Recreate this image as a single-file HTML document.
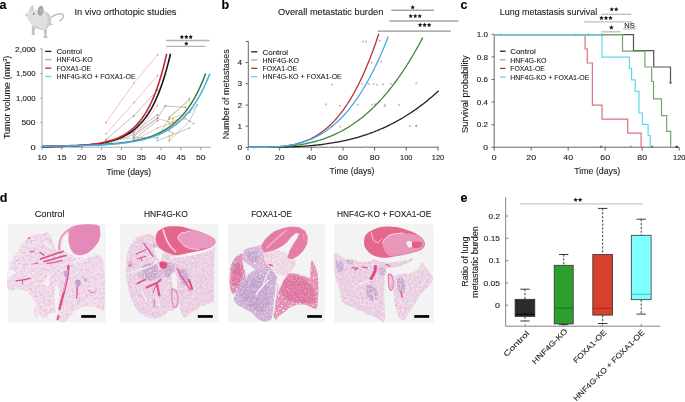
<!DOCTYPE html><html><head><meta charset="utf-8"><style>html,body{margin:0;padding:0;background:#fff;}svg{display:block;will-change:transform}text{font-family:"Liberation Sans",sans-serif;stroke:#1a1a1a;stroke-width:0.1px;paint-order:stroke}</style></head><body>
<svg width="685" height="402" viewBox="0 0 685 402">
<rect width="685" height="402" fill="#fff"/>
<text x="-0.60" y="9.00" font-size="12.5" font-weight="bold" fill="#000">a</text>
<text x="221.40" y="9.00" font-size="12.5" font-weight="bold" fill="#000">b</text>
<text x="460.60" y="9.00" font-size="12.5" font-weight="bold" fill="#000">c</text>
<text x="-0.20" y="201.80" font-size="12.5" font-weight="bold" fill="#000">d</text>
<text x="460.60" y="201.90" font-size="12.5" font-weight="bold" fill="#000">e</text>
<g>
<path d="M50.8,17.8 C53,16.2 54.5,15.2 56,14.7 C58.5,13.9 60.5,13.5 61.9,13.8 C63.6,14.2 63.8,16.2 62.8,18 C61.9,19.4 60.8,20.3 59.8,21" stroke="#b4b4b4" stroke-width="1.25" fill="none" stroke-linecap="round"/>
<path d="M43.80,29.00 C44.20,27.92 46.37,28.00 46.80,29.00 C47.23,30.00 46.22,33.57 46.40,35.00 C46.58,36.43 48.40,37.12 47.90,37.60 C47.40,38.08 43.98,38.25 43.40,37.90 C42.82,37.55 44.33,36.98 44.40,35.50 C44.47,34.02 43.40,30.08 43.80,29.00 Z" fill="#c0c0c0"/>
<path d="M31.80,26.50 C32.30,25.58 34.77,26.00 35.20,27.00 C35.63,28.00 34.40,31.25 34.40,32.50 C34.40,33.75 35.73,34.15 35.20,34.50 C34.67,34.85 31.70,34.93 31.20,34.60 C30.70,34.27 32.10,33.85 32.20,32.50 C32.30,31.15 31.30,27.42 31.80,26.50 Z" fill="#c0c0c0"/>
<path d="M50.2,22.8 L53.3,24.6 L50,25.6 Z" fill="#c4c4c4"/>
<path d="M26.20,14.70 C26.37,14.05 26.82,13.18 27.30,12.60 C27.78,12.02 28.40,11.60 29.10,11.20 C29.80,10.80 30.63,10.43 31.50,10.20 C32.37,9.97 33.22,9.73 34.30,9.80 C35.38,9.87 36.80,10.53 38.00,10.60 C39.20,10.67 40.40,10.13 41.50,10.20 C42.60,10.27 43.58,10.63 44.60,11.00 C45.62,11.37 46.73,11.80 47.60,12.40 C48.47,13.00 49.20,13.58 49.80,14.60 C50.40,15.62 51.00,17.13 51.20,18.50 C51.40,19.87 51.40,21.48 51.00,22.80 C50.60,24.12 49.60,25.37 48.80,26.40 C48.00,27.43 47.17,28.37 46.20,29.00 C45.23,29.63 44.07,30.10 43.00,30.20 C41.93,30.30 40.93,29.87 39.80,29.60 C38.67,29.33 37.32,29.13 36.20,28.60 C35.08,28.07 34.07,27.37 33.10,26.40 C32.13,25.43 31.28,24.00 30.40,22.80 C29.52,21.60 28.48,20.25 27.80,19.20 C27.12,18.15 26.57,17.25 26.30,16.50 C26.03,15.75 26.03,15.35 26.20,14.70 Z" fill="#e0e0e0"/>
<path d="M45.00,12.00 C45.33,11.80 47.53,12.80 48.50,13.80 C49.47,14.80 50.42,16.50 50.80,18.00 C51.18,19.50 51.17,21.40 50.80,22.80 C50.43,24.20 49.40,25.40 48.60,26.40 C47.80,27.40 46.22,29.20 46.00,28.80 C45.78,28.40 47.03,25.63 47.30,24.00 C47.57,22.37 47.73,20.50 47.60,19.00 C47.47,17.50 46.93,16.17 46.50,15.00 C46.07,13.83 44.67,12.20 45.00,12.00 Z" fill="#cdcdcd"/>
<path d="M33.00,26.20 C33.08,26.63 35.33,27.85 36.50,28.40 C37.67,28.95 38.88,29.23 40.00,29.50 C41.12,29.77 43.20,30.32 43.20,30.00 C43.20,29.68 41.20,28.30 40.00,27.60 C38.80,26.90 37.17,26.03 36.00,25.80 C34.83,25.57 32.92,25.77 33.00,26.20 Z" fill="#d2d2d2"/>
<path d="M29.0,11.4 C29.6,9 30.8,6.8 32.4,5.2 C33.2,6.8 33.7,8.2 33.9,9.8 C32.2,10 30.6,10.6 29.0,11.4 Z" fill="#d4d4d4" stroke="#bdbdbd" stroke-width="0.4"/>
<ellipse cx="40.6" cy="10.8" rx="3.0" ry="5.0" transform="rotate(8 40.6 10.8)" fill="#a3a3a3"/>
<ellipse cx="41.2" cy="11.4" rx="1.6" ry="3.4" transform="rotate(8 41.2 11.4)" fill="#b0b0b0"/>
<ellipse cx="33.8" cy="13.8" rx="0.85" ry="0.65" transform="rotate(25 33.8 13.8)" fill="#4a4a4a"/>
<circle cx="26.4" cy="14.9" r="0.75" fill="#a0a0a0"/>
<path d="M25.6,14.2 L23.2,12.8 M25.6,15.2 L23,15.3" stroke="#dcdcdc" stroke-width="0.35"/>
</g>
<text x="74.40" y="14.90" font-size="9.5" textLength="102.10" lengthAdjust="spacingAndGlyphs" fill="#1a1a1a">In vivo orthotopic studies</text>
<line x1="42.00" y1="48.30" x2="42.00" y2="147.40" stroke="#9a9a9a" stroke-width="0.9"/>
<line x1="40.20" y1="49.00" x2="42.00" y2="49.00" stroke="#9a9a9a" stroke-width="0.9"/>
<text x="35.60" y="51.60" font-size="7.4" text-anchor="end" textLength="20.50" lengthAdjust="spacingAndGlyphs" fill="#1a1a1a">2,000</text>
<line x1="40.20" y1="73.50" x2="42.00" y2="73.50" stroke="#9a9a9a" stroke-width="0.9"/>
<text x="35.60" y="76.10" font-size="7.4" text-anchor="end" textLength="19.50" lengthAdjust="spacingAndGlyphs" fill="#1a1a1a">1,500</text>
<line x1="40.20" y1="98.00" x2="42.00" y2="98.00" stroke="#9a9a9a" stroke-width="0.9"/>
<text x="35.60" y="100.60" font-size="7.4" text-anchor="end" textLength="19.50" lengthAdjust="spacingAndGlyphs" fill="#1a1a1a">1,000</text>
<line x1="40.20" y1="122.50" x2="42.00" y2="122.50" stroke="#9a9a9a" stroke-width="0.9"/>
<text x="35.60" y="125.10" font-size="7.4" text-anchor="end" textLength="14.20" lengthAdjust="spacingAndGlyphs" fill="#1a1a1a">500</text>
<line x1="40.20" y1="147.00" x2="42.00" y2="147.00" stroke="#9a9a9a" stroke-width="0.9"/>
<text x="35.60" y="149.60" font-size="7.4" text-anchor="end" textLength="5.20" lengthAdjust="spacingAndGlyphs" fill="#1a1a1a">0</text>
<line x1="42.00" y1="147.20" x2="211.00" y2="147.20" stroke="#9a9a9a" stroke-width="0.9"/>
<line x1="42.00" y1="147.20" x2="42.00" y2="150.00" stroke="#9a9a9a" stroke-width="1.0"/>
<text x="42.00" y="160.00" font-size="7.4" text-anchor="middle" textLength="9.60" lengthAdjust="spacingAndGlyphs" fill="#1a1a1a">10</text>
<line x1="61.85" y1="147.20" x2="61.85" y2="150.00" stroke="#9a9a9a" stroke-width="1.0"/>
<text x="61.85" y="160.00" font-size="7.4" text-anchor="middle" textLength="9.60" lengthAdjust="spacingAndGlyphs" fill="#1a1a1a">15</text>
<line x1="81.70" y1="147.20" x2="81.70" y2="150.00" stroke="#9a9a9a" stroke-width="1.0"/>
<text x="81.70" y="160.00" font-size="7.4" text-anchor="middle" textLength="9.60" lengthAdjust="spacingAndGlyphs" fill="#1a1a1a">20</text>
<line x1="101.55" y1="147.20" x2="101.55" y2="150.00" stroke="#9a9a9a" stroke-width="1.0"/>
<text x="101.55" y="160.00" font-size="7.4" text-anchor="middle" textLength="9.60" lengthAdjust="spacingAndGlyphs" fill="#1a1a1a">25</text>
<line x1="121.40" y1="147.20" x2="121.40" y2="150.00" stroke="#9a9a9a" stroke-width="1.0"/>
<text x="121.40" y="160.00" font-size="7.4" text-anchor="middle" textLength="9.60" lengthAdjust="spacingAndGlyphs" fill="#1a1a1a">30</text>
<line x1="141.25" y1="147.20" x2="141.25" y2="150.00" stroke="#9a9a9a" stroke-width="1.0"/>
<text x="141.25" y="160.00" font-size="7.4" text-anchor="middle" textLength="9.60" lengthAdjust="spacingAndGlyphs" fill="#1a1a1a">35</text>
<line x1="161.10" y1="147.20" x2="161.10" y2="150.00" stroke="#9a9a9a" stroke-width="1.0"/>
<text x="161.10" y="160.00" font-size="7.4" text-anchor="middle" textLength="9.60" lengthAdjust="spacingAndGlyphs" fill="#1a1a1a">40</text>
<line x1="180.95" y1="147.20" x2="180.95" y2="150.00" stroke="#9a9a9a" stroke-width="1.0"/>
<text x="180.95" y="160.00" font-size="7.4" text-anchor="middle" textLength="9.60" lengthAdjust="spacingAndGlyphs" fill="#1a1a1a">45</text>
<line x1="200.80" y1="147.20" x2="200.80" y2="150.00" stroke="#9a9a9a" stroke-width="1.0"/>
<text x="200.80" y="160.00" font-size="7.4" text-anchor="middle" textLength="9.60" lengthAdjust="spacingAndGlyphs" fill="#1a1a1a">50</text>
<text x="128.80" y="174.50" font-size="8.6" text-anchor="middle" textLength="44.80" lengthAdjust="spacingAndGlyphs" fill="#1a1a1a">Time (days)</text>
<text x="10.2" y="97.4" font-size="8.8" text-anchor="middle" transform="rotate(-90 10.2 97.4)" textLength="83.4" lengthAdjust="spacingAndGlyphs" fill="#1a1a1a">Tumor volume (mm<tspan font-size="5.4" dy="-3">3</tspan><tspan dy="3">)</tspan></text>
<line x1="45.10" y1="51.40" x2="51.40" y2="51.40" stroke="#222" stroke-width="1.3"/>
<text x="56.40" y="54.15" font-size="7.4" textLength="25.60" lengthAdjust="spacingAndGlyphs" fill="#1a1a1a">Control</text>
<line x1="45.10" y1="59.70" x2="51.40" y2="59.70" stroke="#8dbd8d" stroke-width="1.3"/>
<text x="56.40" y="62.45" font-size="7.4" textLength="36.40" lengthAdjust="spacingAndGlyphs" fill="#1a1a1a">HNF4G-KO</text>
<line x1="45.10" y1="68.20" x2="51.40" y2="68.20" stroke="#c0303a" stroke-width="1.3"/>
<text x="56.40" y="70.95" font-size="7.4" textLength="34.70" lengthAdjust="spacingAndGlyphs" fill="#1a1a1a">FOXA1-OE</text>
<line x1="45.10" y1="76.50" x2="51.40" y2="76.50" stroke="#6fcfea" stroke-width="1.3"/>
<text x="56.40" y="79.25" font-size="7.4" textLength="79.20" lengthAdjust="spacingAndGlyphs" fill="#1a1a1a">HNF4G-KO + FOXA1-OE</text>
<polyline points="105.90,122.60 134.00,83.10 157.50,54.80" stroke="#ee8c96" stroke-width="0.55" fill="none"/>
<circle cx="105.90" cy="122.60" r="0.85" fill="#ee8c96"/>
<circle cx="134.00" cy="83.10" r="0.85" fill="#ee8c96"/>
<circle cx="157.50" cy="54.80" r="0.85" fill="#ee8c96"/>
<polyline points="105.90,134.00 134.00,102.50 157.50,75.70" stroke="#ee8c96" stroke-width="0.55" fill="none"/>
<circle cx="105.90" cy="134.00" r="0.85" fill="#ee8c96"/>
<circle cx="134.00" cy="102.50" r="0.85" fill="#ee8c96"/>
<circle cx="157.50" cy="75.70" r="0.85" fill="#ee8c96"/>
<polyline points="105.90,140.50 133.60,137.90 157.50,105.60" stroke="#ee8c96" stroke-width="0.55" fill="none"/>
<circle cx="105.90" cy="140.50" r="0.85" fill="#ee8c96"/>
<circle cx="133.60" cy="137.90" r="0.85" fill="#ee8c96"/>
<circle cx="157.50" cy="105.60" r="0.85" fill="#ee8c96"/>
<polyline points="133.60,141.00 157.50,128.00 185.50,118.60 193.60,123.60" stroke="#ee8c96" stroke-width="0.55" fill="none"/>
<circle cx="133.60" cy="141.00" r="0.85" fill="#ee8c96"/>
<circle cx="157.50" cy="128.00" r="0.85" fill="#ee8c96"/>
<circle cx="185.50" cy="118.60" r="0.85" fill="#ee8c96"/>
<circle cx="193.60" cy="123.60" r="0.85" fill="#ee8c96"/>
<polyline points="133.60,136.50 157.50,118.50 169.30,122.00" stroke="#ee8c96" stroke-width="0.55" fill="none"/>
<circle cx="133.60" cy="136.50" r="0.85" fill="#ee8c96"/>
<circle cx="157.50" cy="118.50" r="0.85" fill="#ee8c96"/>
<circle cx="169.30" cy="122.00" r="0.85" fill="#ee8c96"/>
<polyline points="105.90,139.60 133.60,115.90 157.50,90.30" stroke="#8a8a8a" stroke-width="0.55" fill="none"/>
<circle cx="105.90" cy="139.60" r="0.85" fill="#8a8a8a"/>
<circle cx="133.60" cy="115.90" r="0.85" fill="#8a8a8a"/>
<circle cx="157.50" cy="90.30" r="0.85" fill="#8a8a8a"/>
<polyline points="105.90,143.30 133.60,132.30 157.50,114.90" stroke="#8a8a8a" stroke-width="0.55" fill="none"/>
<circle cx="105.90" cy="143.30" r="0.85" fill="#8a8a8a"/>
<circle cx="133.60" cy="132.30" r="0.85" fill="#8a8a8a"/>
<circle cx="157.50" cy="114.90" r="0.85" fill="#8a8a8a"/>
<polyline points="105.90,144.50 133.60,134.60 157.50,118.00 165.20,106.00 185.50,107.40" stroke="#8a8a8a" stroke-width="0.55" fill="none"/>
<circle cx="105.90" cy="144.50" r="0.85" fill="#8a8a8a"/>
<circle cx="133.60" cy="134.60" r="0.85" fill="#8a8a8a"/>
<circle cx="157.50" cy="118.00" r="0.85" fill="#8a8a8a"/>
<circle cx="165.20" cy="106.00" r="0.85" fill="#8a8a8a"/>
<circle cx="185.50" cy="107.40" r="0.85" fill="#8a8a8a"/>
<polyline points="133.60,140.00 157.50,120.50" stroke="#8a8a8a" stroke-width="0.55" fill="none"/>
<circle cx="133.60" cy="140.00" r="0.85" fill="#8a8a8a"/>
<circle cx="157.50" cy="120.50" r="0.85" fill="#8a8a8a"/>
<polyline points="133.60,137.30 157.50,137.90 169.30,118.00 189.50,98.50" stroke="#7fb07f" stroke-width="0.55" fill="none"/>
<circle cx="133.60" cy="137.30" r="0.85" fill="#7fb07f"/>
<circle cx="157.50" cy="137.90" r="0.85" fill="#7fb07f"/>
<circle cx="169.30" cy="118.00" r="0.85" fill="#7fb07f"/>
<circle cx="189.50" cy="98.50" r="0.85" fill="#7fb07f"/>
<polyline points="157.50,140.50 169.30,136.00 189.50,128.00" stroke="#7fb07f" stroke-width="0.55" fill="none"/>
<circle cx="157.50" cy="140.50" r="0.85" fill="#7fb07f"/>
<circle cx="169.30" cy="136.00" r="0.85" fill="#7fb07f"/>
<circle cx="189.50" cy="128.00" r="0.85" fill="#7fb07f"/>
<polyline points="169.30,119.00 189.50,112.40 197.30,105.00 189.50,121.10 169.30,141.00" stroke="#7fb07f" stroke-width="0.55" fill="none"/>
<circle cx="169.30" cy="119.00" r="0.85" fill="#7fb07f"/>
<circle cx="189.50" cy="112.40" r="0.85" fill="#7fb07f"/>
<circle cx="197.30" cy="105.00" r="0.85" fill="#7fb07f"/>
<circle cx="189.50" cy="121.10" r="0.85" fill="#7fb07f"/>
<circle cx="169.30" cy="141.00" r="0.85" fill="#7fb07f"/>
<polyline points="169.30,116.80 189.50,100.60" stroke="#f0a060" stroke-width="0.55" fill="none"/>
<circle cx="169.30" cy="116.80" r="0.85" fill="#f0a060"/>
<circle cx="189.50" cy="100.60" r="0.85" fill="#f0a060"/>
<polyline points="173.00,118.60 173.00,122.00 169.30,131.00 173.00,133.00 169.30,139.00" stroke="#f0a060" stroke-width="0.55" fill="none"/>
<circle cx="173.00" cy="118.60" r="0.85" fill="#f0a060"/>
<circle cx="173.00" cy="122.00" r="0.85" fill="#f0a060"/>
<circle cx="169.30" cy="131.00" r="0.85" fill="#f0a060"/>
<circle cx="173.00" cy="133.00" r="0.85" fill="#f0a060"/>
<circle cx="169.30" cy="139.00" r="0.85" fill="#f0a060"/>
<polyline points="169.30,124.00 189.50,112.00" stroke="#f0a060" stroke-width="0.55" fill="none"/>
<circle cx="169.30" cy="124.00" r="0.85" fill="#f0a060"/>
<circle cx="189.50" cy="112.00" r="0.85" fill="#f0a060"/>
<polyline points="42.00,145.92 44.05,145.91 46.09,145.90 48.14,145.88 50.19,145.86 52.23,145.84 54.28,145.82 56.32,145.80 58.37,145.78 60.42,145.75 62.46,145.73 64.51,145.70 66.56,145.67 68.60,145.63 70.65,145.60 72.69,145.56 74.74,145.51 76.79,145.47 78.83,145.42 80.88,145.37 82.92,145.31 84.97,145.25 87.02,145.18 89.06,145.11 91.11,145.03 93.16,144.95 95.20,144.86 97.25,144.76 99.29,144.65 101.34,144.54 103.39,144.42 105.43,144.29 107.48,144.14 109.53,143.99 111.57,143.83 113.62,143.65 115.66,143.46 117.71,143.25 119.76,143.03 121.80,142.79 123.85,142.53 125.90,142.25 127.94,141.95 129.99,141.62 132.03,141.27 134.08,140.90 136.13,140.49 138.17,140.05 140.22,139.58 142.27,139.07 144.31,138.52 146.36,137.92 148.41,137.28 150.45,136.59 152.50,135.85 154.54,135.05 156.59,134.18 158.64,133.25 160.68,132.25 162.73,131.16 164.78,130.00 166.82,128.74 168.87,127.38 170.91,125.91 172.96,124.33 175.01,122.63 177.05,120.80 179.10,118.82 181.14,116.68 183.19,114.38 185.24,111.90 187.28,109.23 189.33,106.34 191.38,103.24 193.42,99.88 195.47,96.27 197.51,92.37 199.56,88.17 201.61,83.64 203.65,78.75 205.70,73.49" stroke="#3d7b3d" stroke-width="1.5" fill="none"/>
<polyline points="42.00,146.76 43.61,146.74 45.21,146.72 46.82,146.70 48.42,146.67 50.03,146.65 51.64,146.62 53.24,146.59 54.85,146.56 56.46,146.53 58.06,146.49 59.67,146.45 61.27,146.41 62.88,146.36 64.49,146.31 66.09,146.26 67.70,146.20 69.31,146.14 70.91,146.07 72.52,146.00 74.12,145.92 75.73,145.84 77.34,145.75 78.94,145.66 80.55,145.55 82.16,145.44 83.76,145.32 85.37,145.19 86.97,145.05 88.58,144.90 90.19,144.74 91.79,144.56 93.40,144.37 95.01,144.17 96.61,143.95 98.22,143.72 99.83,143.46 101.43,143.19 103.04,142.90 104.64,142.58 106.25,142.24 107.86,141.87 109.46,141.47 111.07,141.05 112.67,140.59 114.28,140.09 115.89,139.56 117.49,138.99 119.10,138.37 120.71,137.70 122.31,136.98 123.92,136.21 125.53,135.38 127.13,134.48 128.74,133.51 130.34,132.47 131.95,131.35 133.56,130.14 135.16,128.84 136.77,127.44 138.38,125.93 139.98,124.30 141.59,122.55 143.19,120.66 144.80,118.63 146.41,116.44 148.01,114.08 149.62,111.53 151.22,108.80 152.83,105.85 154.44,102.67 156.04,99.25 157.65,95.56 159.26,91.59 160.86,87.31 162.47,82.70 164.07,77.74 165.68,72.39 167.29,66.63 168.89,60.43 170.50,53.74" stroke="#161616" stroke-width="1.6" fill="none"/>
<polyline points="42.00,146.76 43.56,146.74 45.12,146.72 46.68,146.70 48.23,146.68 49.79,146.65 51.35,146.62 52.91,146.60 54.47,146.56 56.03,146.53 57.59,146.49 59.15,146.45 60.70,146.41 62.26,146.37 63.82,146.32 65.38,146.27 66.94,146.21 68.50,146.15 70.06,146.08 71.62,146.01 73.17,145.93 74.73,145.85 76.29,145.76 77.85,145.67 79.41,145.56 80.97,145.45 82.53,145.33 84.09,145.20 85.64,145.06 87.20,144.91 88.76,144.75 90.32,144.58 91.88,144.39 93.44,144.19 95.00,143.97 96.56,143.74 98.11,143.49 99.67,143.22 101.23,142.92 102.79,142.61 104.35,142.27 105.91,141.90 107.47,141.51 109.03,141.08 110.58,140.62 112.14,140.13 113.70,139.60 115.26,139.03 116.82,138.41 118.38,137.75 119.94,137.03 121.50,136.26 123.05,135.43 124.61,134.53 126.17,133.57 127.73,132.53 129.29,131.41 130.85,130.20 132.41,128.90 133.97,127.50 135.52,126.00 137.08,124.37 138.64,122.62 140.20,120.74 141.76,118.70 143.32,116.52 144.88,114.16 146.44,111.62 147.99,108.88 149.55,105.93 151.11,102.75 152.67,99.33 154.23,95.64 155.79,91.67 157.35,87.39 158.91,82.78 160.46,77.81 162.02,72.46 163.58,66.70 165.14,60.48 166.70,53.79" stroke="#c42a3c" stroke-width="1.6" fill="none"/>
<polyline points="42.00,146.21 44.10,146.20 46.20,146.18 48.29,146.16 50.39,146.15 52.49,146.13 54.59,146.11 56.68,146.08 58.78,146.06 60.88,146.03 62.98,146.00 65.07,145.97 67.17,145.94 69.27,145.90 71.37,145.87 73.46,145.83 75.56,145.78 77.66,145.73 79.75,145.68 81.85,145.63 83.95,145.57 86.05,145.50 88.15,145.43 90.24,145.36 92.34,145.28 94.44,145.19 96.53,145.10 98.63,144.99 100.73,144.89 102.83,144.77 104.92,144.64 107.02,144.51 109.12,144.36 111.22,144.20 113.32,144.03 115.41,143.85 117.51,143.65 119.61,143.44 121.71,143.21 123.80,142.97 125.90,142.70 128.00,142.42 130.09,142.11 132.19,141.78 134.29,141.42 136.39,141.03 138.49,140.62 140.58,140.17 142.68,139.69 144.78,139.17 146.88,138.61 148.97,138.01 151.07,137.36 153.17,136.66 155.27,135.91 157.36,135.10 159.46,134.22 161.56,133.28 163.66,132.27 165.75,131.18 167.85,130.00 169.95,128.73 172.05,127.37 174.14,125.89 176.24,124.31 178.34,122.60 180.44,120.76 182.53,118.78 184.63,116.65 186.73,114.35 188.82,111.87 190.92,109.20 193.02,106.32 195.12,103.22 197.22,99.89 199.31,96.29 201.41,92.42 203.51,88.24 205.61,83.75 207.70,78.91 209.80,73.69" stroke="#4aaee6" stroke-width="1.5" fill="none"/>
<line x1="166.00" y1="40.50" x2="209.50" y2="40.50" stroke="#b4b4b4" stroke-width="1.3"/>
<polygon points="181.90,34.65 182.56,36.09 184.13,36.27 182.97,37.35 183.28,38.90 181.90,38.13 180.52,38.90 180.83,37.35 179.67,36.27 181.24,36.09" fill="#1a1a1a"/>
<polygon points="186.30,34.65 186.96,36.09 188.53,36.27 187.37,37.35 187.68,38.90 186.30,38.13 184.92,38.90 185.23,37.35 184.07,36.27 185.64,36.09" fill="#1a1a1a"/>
<polygon points="190.70,34.65 191.36,36.09 192.93,36.27 191.77,37.35 192.08,38.90 190.70,38.13 189.32,38.90 189.63,37.35 188.47,36.27 190.04,36.09" fill="#1a1a1a"/>
<line x1="166.00" y1="46.30" x2="205.70" y2="46.30" stroke="#b4b4b4" stroke-width="1.3"/>
<polygon points="186.30,41.35 186.96,42.79 188.53,42.97 187.37,44.05 187.68,45.60 186.30,44.83 184.92,45.60 185.23,44.05 184.07,42.97 185.64,42.79" fill="#1a1a1a"/>
<text x="278.10" y="14.90" font-size="9.5" textLength="105.20" lengthAdjust="spacingAndGlyphs" fill="#1a1a1a">Overall metastatic burden</text>
<line x1="248.30" y1="41.30" x2="248.30" y2="147.40" stroke="#555" stroke-width="0.9"/>
<line x1="245.60" y1="147.40" x2="248.30" y2="147.40" stroke="#555" stroke-width="0.9"/>
<text x="242.20" y="150.00" font-size="7.4" text-anchor="end" textLength="4.60" lengthAdjust="spacingAndGlyphs" fill="#1a1a1a">0</text>
<line x1="245.60" y1="126.20" x2="248.30" y2="126.20" stroke="#555" stroke-width="0.9"/>
<text x="242.20" y="128.80" font-size="7.4" text-anchor="end" textLength="4.60" lengthAdjust="spacingAndGlyphs" fill="#1a1a1a">1</text>
<line x1="245.60" y1="105.00" x2="248.30" y2="105.00" stroke="#555" stroke-width="0.9"/>
<text x="242.20" y="107.60" font-size="7.4" text-anchor="end" textLength="4.60" lengthAdjust="spacingAndGlyphs" fill="#1a1a1a">2</text>
<line x1="245.60" y1="83.80" x2="248.30" y2="83.80" stroke="#555" stroke-width="0.9"/>
<text x="242.20" y="86.40" font-size="7.4" text-anchor="end" textLength="4.60" lengthAdjust="spacingAndGlyphs" fill="#1a1a1a">3</text>
<line x1="245.60" y1="62.60" x2="248.30" y2="62.60" stroke="#555" stroke-width="0.9"/>
<text x="242.20" y="65.20" font-size="7.4" text-anchor="end" textLength="4.60" lengthAdjust="spacingAndGlyphs" fill="#1a1a1a">4</text>
<line x1="245.60" y1="41.40" x2="248.30" y2="41.40" stroke="#555" stroke-width="0.9"/>
<line x1="248.30" y1="147.20" x2="438.60" y2="147.20" stroke="#555" stroke-width="0.9"/>
<line x1="248.00" y1="147.20" x2="248.00" y2="150.60" stroke="#555" stroke-width="0.9"/>
<text x="248.00" y="159.60" font-size="7.4" text-anchor="middle" textLength="4.80" lengthAdjust="spacingAndGlyphs" fill="#1a1a1a">0</text>
<line x1="279.66" y1="147.20" x2="279.66" y2="150.60" stroke="#555" stroke-width="0.9"/>
<text x="279.66" y="159.60" font-size="7.4" text-anchor="middle" textLength="9.80" lengthAdjust="spacingAndGlyphs" fill="#1a1a1a">20</text>
<line x1="311.32" y1="147.20" x2="311.32" y2="150.60" stroke="#555" stroke-width="0.9"/>
<text x="311.32" y="159.60" font-size="7.4" text-anchor="middle" textLength="9.80" lengthAdjust="spacingAndGlyphs" fill="#1a1a1a">40</text>
<line x1="342.98" y1="147.20" x2="342.98" y2="150.60" stroke="#555" stroke-width="0.9"/>
<text x="342.98" y="159.60" font-size="7.4" text-anchor="middle" textLength="9.80" lengthAdjust="spacingAndGlyphs" fill="#1a1a1a">60</text>
<line x1="374.64" y1="147.20" x2="374.64" y2="150.60" stroke="#555" stroke-width="0.9"/>
<text x="374.64" y="159.60" font-size="7.4" text-anchor="middle" textLength="9.80" lengthAdjust="spacingAndGlyphs" fill="#1a1a1a">80</text>
<line x1="406.30" y1="147.20" x2="406.30" y2="150.60" stroke="#555" stroke-width="0.9"/>
<text x="406.30" y="159.60" font-size="7.4" text-anchor="middle" textLength="12.40" lengthAdjust="spacingAndGlyphs" fill="#1a1a1a">100</text>
<line x1="437.96" y1="147.20" x2="437.96" y2="150.60" stroke="#555" stroke-width="0.9"/>
<text x="437.96" y="159.60" font-size="7.4" text-anchor="middle" textLength="12.40" lengthAdjust="spacingAndGlyphs" fill="#1a1a1a">120</text>
<text x="352.00" y="173.80" font-size="8.6" text-anchor="middle" textLength="44.80" lengthAdjust="spacingAndGlyphs" fill="#1a1a1a">Time (days)</text>
<text x="229.20" y="94.20" font-size="8.8" text-anchor="middle" textLength="89.90" lengthAdjust="spacingAndGlyphs" fill="#1a1a1a" transform="rotate(-90 229.20 94.20)">Number of metastases</text>
<line x1="251.10" y1="51.80" x2="257.40" y2="51.80" stroke="#222" stroke-width="1.3"/>
<text x="262.50" y="54.55" font-size="7.4" textLength="25.60" lengthAdjust="spacingAndGlyphs" fill="#1a1a1a">Control</text>
<line x1="251.10" y1="60.00" x2="257.40" y2="60.00" stroke="#8dbd8d" stroke-width="1.3"/>
<text x="262.50" y="62.75" font-size="7.4" textLength="36.40" lengthAdjust="spacingAndGlyphs" fill="#1a1a1a">HNF4G-KO</text>
<line x1="251.10" y1="68.30" x2="257.40" y2="68.30" stroke="#c0303a" stroke-width="1.3"/>
<text x="262.50" y="71.05" font-size="7.4" textLength="34.70" lengthAdjust="spacingAndGlyphs" fill="#1a1a1a">FOXA1-OE</text>
<line x1="251.10" y1="76.70" x2="257.40" y2="76.70" stroke="#6fcfea" stroke-width="1.3"/>
<text x="262.50" y="79.45" font-size="7.4" textLength="79.20" lengthAdjust="spacingAndGlyphs" fill="#1a1a1a">HNF4G-KO + FOXA1-OE</text>
<circle cx="363.20" cy="41.60" r="1.05" fill="#f3a0c4"/>
<circle cx="366.20" cy="41.60" r="1.05" fill="#f3a0c4"/>
<circle cx="379.80" cy="40.80" r="1.05" fill="#f3a0c4"/>
<circle cx="371.80" cy="62.70" r="1.05" fill="#f3a0c4"/>
<circle cx="381.20" cy="61.70" r="1.05" fill="#f3a0c4"/>
<circle cx="368.80" cy="83.90" r="1.05" fill="#f3a0c4"/>
<circle cx="371.90" cy="104.70" r="1.05" fill="#f3a0c4"/>
<circle cx="375.00" cy="104.40" r="1.05" fill="#f3a0c4"/>
<circle cx="340.30" cy="126.60" r="1.05" fill="#f3a0c4"/>
<circle cx="340.70" cy="146.90" r="1.05" fill="#f3a0c4"/>
<circle cx="332.20" cy="84.60" r="1.05" fill="#f5b27e"/>
<circle cx="362.20" cy="83.70" r="1.05" fill="#f5b27e"/>
<circle cx="373.40" cy="84.00" r="1.05" fill="#f5b27e"/>
<circle cx="325.80" cy="104.40" r="1.05" fill="#f5b27e"/>
<circle cx="340.00" cy="105.70" r="1.05" fill="#f5b27e"/>
<circle cx="332.20" cy="126.50" r="1.05" fill="#f5b27e"/>
<circle cx="318.00" cy="147.60" r="1.05" fill="#f5b27e"/>
<circle cx="376.90" cy="84.70" r="1.05" fill="#c9b6e6"/>
<circle cx="382.80" cy="84.40" r="1.05" fill="#c9b6e6"/>
<circle cx="390.90" cy="84.00" r="1.05" fill="#c9b6e6"/>
<circle cx="384.70" cy="104.80" r="1.05" fill="#c9b6e6"/>
<circle cx="357.90" cy="104.90" r="1.05" fill="#c9b6e6"/>
<circle cx="329.10" cy="147.50" r="1.05" fill="#c9b6e6"/>
<circle cx="398.90" cy="104.90" r="1.05" fill="#c9b6e6"/>
<circle cx="416.30" cy="83.20" r="1.05" fill="#93d5c2"/>
<circle cx="384.70" cy="106.20" r="1.05" fill="#93d5c2"/>
<circle cx="409.80" cy="125.90" r="1.05" fill="#93d5c2"/>
<circle cx="366.90" cy="146.90" r="1.05" fill="#93d5c2"/>
<circle cx="254.00" cy="147.60" r="1.05" fill="#93d5c2"/>
<circle cx="416.30" cy="125.90" r="1.05" fill="#62b99c"/>
<polyline points="248.00,147.40 249.59,147.40 251.18,147.40 252.77,147.40 254.36,147.40 255.95,147.40 257.54,147.40 259.12,147.39 260.71,147.39 262.30,147.38 263.89,147.38 265.48,147.37 267.07,147.36 268.66,147.34 270.25,147.33 271.84,147.31 273.43,147.29 275.02,147.27 276.61,147.25 278.19,147.22 279.78,147.19 281.37,147.15 282.96,147.11 284.55,147.07 286.14,147.03 287.73,146.98 289.32,146.92 290.91,146.86 292.50,146.80 294.09,146.73 295.68,146.65 297.26,146.57 298.85,146.48 300.44,146.39 302.03,146.29 303.62,146.19 305.21,146.08 306.80,145.96 308.39,145.83 309.98,145.70 311.57,145.56 313.16,145.41 314.75,145.26 316.33,145.09 317.92,144.92 319.51,144.74 321.10,144.55 322.69,144.36 324.28,144.15 325.87,143.93 327.46,143.71 329.05,143.47 330.64,143.23 332.23,142.97 333.81,142.71 335.40,142.43 336.99,142.14 338.58,141.84 340.17,141.53 341.76,141.21 343.35,140.88 344.94,140.53 346.53,140.18 348.12,139.81 349.71,139.42 351.30,139.03 352.88,138.62 354.47,138.20 356.06,137.76 357.65,137.31 359.24,136.85 360.83,136.37 362.42,135.88 364.01,135.37 365.60,134.85 367.19,134.32 368.78,133.76 370.37,133.20 371.95,132.61 373.54,132.01 375.13,131.40 376.72,130.77 378.31,130.12 379.90,129.45 381.49,128.77 383.08,128.07 384.67,127.35 386.26,126.61 387.85,125.86 389.44,125.08 391.02,124.29 392.61,123.48 394.20,122.65 395.79,121.80 397.38,120.93 398.97,120.05 400.56,119.14 402.15,118.21 403.74,117.26 405.33,116.29 406.92,115.30 408.51,114.29 410.09,113.25 411.68,112.20 413.27,111.12 414.86,110.02 416.45,108.90 418.04,107.75 419.63,106.59 421.22,105.39 422.81,104.18 424.40,102.94 425.99,101.68 427.58,100.40 429.16,99.09 430.75,97.75 432.34,96.39 433.93,95.01 435.52,93.60 437.11,92.16 438.70,90.70" stroke="#222" stroke-width="1.3" fill="none"/>
<polyline points="248.00,147.40 249.46,147.40 250.91,147.40 252.37,147.40 253.82,147.40 255.28,147.39 256.74,147.39 258.19,147.38 259.65,147.37 261.10,147.36 262.56,147.34 264.01,147.32 265.47,147.30 266.93,147.28 268.38,147.24 269.84,147.21 271.29,147.16 272.75,147.12 274.20,147.06 275.66,147.00 277.12,146.94 278.57,146.86 280.03,146.78 281.48,146.69 282.94,146.59 284.40,146.48 285.85,146.37 287.31,146.24 288.76,146.10 290.22,145.96 291.68,145.80 293.13,145.63 294.59,145.45 296.04,145.26 297.50,145.06 298.95,144.84 300.41,144.61 301.87,144.37 303.32,144.11 304.78,143.84 306.23,143.55 307.69,143.25 309.14,142.93 310.60,142.60 312.06,142.25 313.51,141.89 314.97,141.50 316.42,141.10 317.88,140.69 319.34,140.25 320.79,139.80 322.25,139.32 323.70,138.83 325.16,138.32 326.62,137.79 328.07,137.23 329.53,136.66 330.98,136.06 332.44,135.44 333.89,134.80 335.35,134.14 336.81,133.46 338.26,132.75 339.72,132.02 341.17,131.26 342.63,130.48 344.08,129.67 345.54,128.84 347.00,127.98 348.45,127.10 349.91,126.18 351.36,125.25 352.82,124.28 354.28,123.29 355.73,122.27 357.19,121.22 358.64,120.14 360.10,119.03 361.56,117.89 363.01,116.72 364.47,115.52 365.92,114.29 367.38,113.03 368.83,111.73 370.29,110.40 371.75,109.04 373.20,107.65 374.66,106.23 376.11,104.76 377.57,103.27 379.02,101.74 380.48,100.17 381.94,98.57 383.39,96.94 384.85,95.26 386.30,93.55 387.76,91.81 389.22,90.02 390.67,88.20 392.13,86.34 393.58,84.43 395.04,82.49 396.50,80.51 397.95,78.49 399.41,76.43 400.86,74.33 402.32,72.19 403.77,70.00 405.23,67.78 406.69,65.51 408.14,63.19 409.60,60.84 411.05,58.44 412.51,55.99 413.97,53.50 415.42,50.97 416.88,48.39 418.33,45.76 419.79,43.09 421.24,40.37 422.70,37.60" stroke="#3e8a42" stroke-width="1.3" fill="none"/>
<polyline points="248.00,147.40 249.09,147.40 250.18,147.40 251.27,147.40 252.36,147.40 253.45,147.40 254.54,147.40 255.63,147.39 256.72,147.39 257.81,147.39 258.90,147.38 259.99,147.37 261.08,147.36 262.17,147.35 263.26,147.34 264.35,147.32 265.44,147.30 266.53,147.28 267.62,147.25 268.71,147.22 269.80,147.19 270.89,147.15 271.98,147.10 273.07,147.05 274.16,146.99 275.25,146.93 276.34,146.86 277.43,146.79 278.52,146.70 279.61,146.61 280.70,146.51 281.79,146.40 282.88,146.29 283.97,146.16 285.06,146.02 286.15,145.88 287.24,145.72 288.33,145.55 289.42,145.37 290.51,145.18 291.60,144.97 292.69,144.75 293.78,144.52 294.87,144.27 295.96,144.01 297.05,143.73 298.14,143.44 299.23,143.13 300.32,142.80 301.41,142.46 302.50,142.10 303.59,141.71 304.68,141.32 305.77,140.90 306.86,140.46 307.95,140.00 309.04,139.51 310.13,139.01 311.22,138.48 312.31,137.93 313.40,137.36 314.49,136.76 315.58,136.14 316.67,135.49 317.76,134.81 318.85,134.11 319.94,133.38 321.03,132.63 322.12,131.84 323.21,131.02 324.30,130.18 325.39,129.30 326.48,128.39 327.57,127.45 328.66,126.48 329.75,125.47 330.84,124.43 331.93,123.36 333.02,122.25 334.11,121.10 335.20,119.92 336.29,118.70 337.38,117.44 338.47,116.14 339.56,114.80 340.65,113.42 341.74,112.00 342.83,110.54 343.92,109.04 345.01,107.49 346.10,105.90 347.19,104.26 348.28,102.58 349.37,100.85 350.46,99.07 351.55,97.25 352.64,95.38 353.73,93.46 354.82,91.48 355.91,89.46 357.00,87.39 358.09,85.26 359.18,83.08 360.27,80.85 361.36,78.56 362.45,76.21 363.54,73.81 364.63,71.35 365.72,68.84 366.81,66.26 367.90,63.62 368.99,60.93 370.08,58.17 371.17,55.35 372.26,52.47 373.35,49.52 374.44,46.51 375.53,43.43 376.62,40.29 377.71,37.08 378.80,33.80" stroke="#b8323c" stroke-width="1.3" fill="none"/>
<polyline points="248.00,147.40 249.17,147.40 250.34,147.40 251.51,147.40 252.68,147.40 253.85,147.40 255.01,147.39 256.18,147.39 257.35,147.38 258.52,147.38 259.69,147.37 260.86,147.35 262.03,147.34 263.20,147.32 264.37,147.30 265.54,147.27 266.71,147.24 267.88,147.21 269.05,147.17 270.21,147.12 271.38,147.07 272.55,147.02 273.72,146.95 274.89,146.88 276.06,146.81 277.23,146.72 278.40,146.63 279.57,146.53 280.74,146.42 281.91,146.30 283.07,146.18 284.24,146.04 285.41,145.89 286.58,145.73 287.75,145.56 288.92,145.38 290.09,145.19 291.26,144.98 292.43,144.76 293.60,144.53 294.77,144.28 295.94,144.02 297.11,143.75 298.27,143.46 299.44,143.15 300.61,142.83 301.78,142.49 302.95,142.13 304.12,141.76 305.29,141.37 306.46,140.96 307.63,140.53 308.80,140.09 309.97,139.62 311.13,139.13 312.30,138.62 313.47,138.09 314.64,137.54 315.81,136.97 316.98,136.37 318.15,135.75 319.32,135.11 320.49,134.44 321.66,133.75 322.83,133.04 324.00,132.29 325.17,131.52 326.33,130.73 327.50,129.91 328.67,129.06 329.84,128.18 331.01,127.27 332.18,126.34 333.35,125.37 334.52,124.37 335.69,123.35 336.86,122.29 338.03,121.20 339.19,120.08 340.36,118.92 341.53,117.74 342.70,116.51 343.87,115.26 345.04,113.96 346.21,112.64 347.38,111.27 348.55,109.88 349.72,108.44 350.89,106.96 352.06,105.45 353.23,103.90 354.39,102.31 355.56,100.68 356.73,99.01 357.90,97.30 359.07,95.54 360.24,93.75 361.41,91.91 362.58,90.03 363.75,88.11 364.92,86.14 366.09,84.12 367.25,82.06 368.42,79.96 369.59,77.81 370.76,75.61 371.93,73.36 373.10,71.07 374.27,68.73 375.44,66.33 376.61,63.89 377.78,61.40 378.95,58.86 380.12,56.26 381.28,53.61 382.45,50.91 383.62,48.16 384.79,45.35 385.96,42.49 387.13,39.57 388.30,36.60" stroke="#43aee6" stroke-width="1.3" fill="none"/>
<line x1="391.40" y1="10.20" x2="434.00" y2="10.20" stroke="#6a6a6a" stroke-width="0.9"/>
<polygon points="412.70,4.95 413.36,6.39 414.93,6.57 413.77,7.65 414.08,9.20 412.70,8.43 411.32,9.20 411.63,7.65 410.47,6.57 412.04,6.39" fill="#1a1a1a"/>
<line x1="389.30" y1="21.00" x2="458.30" y2="21.00" stroke="#6a6a6a" stroke-width="0.9"/>
<polygon points="410.70,13.85 411.36,15.29 412.93,15.47 411.77,16.55 412.08,18.10 410.70,17.33 409.32,18.10 409.63,16.55 408.47,15.47 410.04,15.29" fill="#1a1a1a"/>
<polygon points="415.20,13.85 415.86,15.29 417.43,15.47 416.27,16.55 416.58,18.10 415.20,17.33 413.82,18.10 414.13,16.55 412.97,15.47 414.54,15.29" fill="#1a1a1a"/>
<polygon points="419.70,13.85 420.36,15.29 421.93,15.47 420.77,16.55 421.08,18.10 419.70,17.33 418.32,18.10 418.63,16.55 417.47,15.47 419.04,15.29" fill="#1a1a1a"/>
<line x1="377.60" y1="31.10" x2="450.80" y2="31.10" stroke="#6a6a6a" stroke-width="0.9"/>
<polygon points="420.10,22.65 420.76,24.09 422.33,24.27 421.17,25.35 421.48,26.90 420.10,26.13 418.72,26.90 419.03,25.35 417.87,24.27 419.44,24.09" fill="#1a1a1a"/>
<polygon points="424.60,22.65 425.26,24.09 426.83,24.27 425.67,25.35 425.98,26.90 424.60,26.13 423.22,26.90 423.53,25.35 422.37,24.27 423.94,24.09" fill="#1a1a1a"/>
<polygon points="429.10,22.65 429.76,24.09 431.33,24.27 430.17,25.35 430.48,26.90 429.10,26.13 427.72,26.90 428.03,25.35 426.87,24.27 428.44,24.09" fill="#1a1a1a"/>
<text x="499.80" y="14.90" font-size="9.5" textLength="97.40" lengthAdjust="spacingAndGlyphs" fill="#1a1a1a">Lung metastasis survival</text>
<line x1="494.20" y1="34.30" x2="494.20" y2="147.40" stroke="#555" stroke-width="0.9"/>
<line x1="491.60" y1="147.30" x2="494.20" y2="147.30" stroke="#555" stroke-width="0.9"/>
<text x="488.00" y="149.90" font-size="7.4" text-anchor="end" textLength="4.80" lengthAdjust="spacingAndGlyphs" fill="#1a1a1a">0</text>
<line x1="491.60" y1="124.70" x2="494.20" y2="124.70" stroke="#555" stroke-width="0.9"/>
<text x="488.00" y="127.30" font-size="7.4" text-anchor="end" textLength="11.20" lengthAdjust="spacingAndGlyphs" fill="#1a1a1a">0.2</text>
<line x1="491.60" y1="102.10" x2="494.20" y2="102.10" stroke="#555" stroke-width="0.9"/>
<text x="488.00" y="104.70" font-size="7.4" text-anchor="end" textLength="11.20" lengthAdjust="spacingAndGlyphs" fill="#1a1a1a">0.4</text>
<line x1="491.60" y1="79.50" x2="494.20" y2="79.50" stroke="#555" stroke-width="0.9"/>
<text x="488.00" y="82.10" font-size="7.4" text-anchor="end" textLength="11.20" lengthAdjust="spacingAndGlyphs" fill="#1a1a1a">0.6</text>
<line x1="491.60" y1="56.90" x2="494.20" y2="56.90" stroke="#555" stroke-width="0.9"/>
<text x="488.00" y="59.50" font-size="7.4" text-anchor="end" textLength="11.20" lengthAdjust="spacingAndGlyphs" fill="#1a1a1a">0.8</text>
<line x1="491.60" y1="34.30" x2="494.20" y2="34.30" stroke="#555" stroke-width="0.9"/>
<text x="488.00" y="36.90" font-size="7.4" text-anchor="end" textLength="11.20" lengthAdjust="spacingAndGlyphs" fill="#1a1a1a">1.0</text>
<line x1="494.20" y1="147.20" x2="679.20" y2="147.20" stroke="#555" stroke-width="0.9"/>
<line x1="494.20" y1="147.20" x2="494.20" y2="150.60" stroke="#555" stroke-width="0.9"/>
<text x="494.20" y="159.50" font-size="7.4" text-anchor="middle" textLength="4.80" lengthAdjust="spacingAndGlyphs" fill="#1a1a1a">0</text>
<line x1="531.20" y1="147.20" x2="531.20" y2="150.60" stroke="#555" stroke-width="0.9"/>
<text x="531.20" y="159.50" font-size="7.4" text-anchor="middle" textLength="9.80" lengthAdjust="spacingAndGlyphs" fill="#1a1a1a">20</text>
<line x1="568.20" y1="147.20" x2="568.20" y2="150.60" stroke="#555" stroke-width="0.9"/>
<text x="568.20" y="159.50" font-size="7.4" text-anchor="middle" textLength="9.80" lengthAdjust="spacingAndGlyphs" fill="#1a1a1a">40</text>
<line x1="605.20" y1="147.20" x2="605.20" y2="150.60" stroke="#555" stroke-width="0.9"/>
<text x="605.20" y="159.50" font-size="7.4" text-anchor="middle" textLength="9.80" lengthAdjust="spacingAndGlyphs" fill="#1a1a1a">60</text>
<line x1="642.20" y1="147.20" x2="642.20" y2="150.60" stroke="#555" stroke-width="0.9"/>
<text x="642.20" y="159.50" font-size="7.4" text-anchor="middle" textLength="9.80" lengthAdjust="spacingAndGlyphs" fill="#1a1a1a">80</text>
<line x1="679.20" y1="147.20" x2="679.20" y2="150.60" stroke="#555" stroke-width="0.9"/>
<text x="679.20" y="159.50" font-size="7.4" text-anchor="middle" textLength="12.40" lengthAdjust="spacingAndGlyphs" fill="#1a1a1a">120</text>
<text x="597.30" y="173.60" font-size="8.6" text-anchor="middle" textLength="46.00" lengthAdjust="spacingAndGlyphs" fill="#1a1a1a">Time (days)</text>
<text x="468.30" y="94.10" font-size="8.6" text-anchor="middle" textLength="77.60" lengthAdjust="spacingAndGlyphs" fill="#1a1a1a" transform="rotate(-90 468.30 94.10)">Survival probability</text>
<line x1="500.00" y1="51.20" x2="505.60" y2="51.20" stroke="#222" stroke-width="1.3"/>
<text x="510.20" y="53.95" font-size="7.4" textLength="25.60" lengthAdjust="spacingAndGlyphs" fill="#1a1a1a">Control</text>
<line x1="500.00" y1="59.80" x2="505.60" y2="59.80" stroke="#8dbd8d" stroke-width="1.3"/>
<text x="510.20" y="62.55" font-size="7.4" textLength="36.40" lengthAdjust="spacingAndGlyphs" fill="#1a1a1a">HNF4G-KO</text>
<line x1="500.00" y1="68.40" x2="505.60" y2="68.40" stroke="#c0303a" stroke-width="1.3"/>
<text x="510.20" y="71.15" font-size="7.4" textLength="34.70" lengthAdjust="spacingAndGlyphs" fill="#1a1a1a">FOXA1-OE</text>
<line x1="500.00" y1="77.10" x2="505.60" y2="77.10" stroke="#6fcfea" stroke-width="1.3"/>
<text x="510.20" y="79.85" font-size="7.4" textLength="79.20" lengthAdjust="spacingAndGlyphs" fill="#1a1a1a">HNF4G-KO + FOXA1-OE</text>
<polyline points="494.20,34.70 633.50,34.70 633.50,50.60 653.70,50.60 653.70,67.00 670.50,67.00 670.50,82.80" stroke="#555" stroke-width="1.2" fill="none"/>
<polyline points="494.20,34.70 622.50,34.70 622.50,51.10 644.90,51.10 644.90,67.00 651.70,67.00 651.70,81.50 653.50,81.50 653.50,98.80 661.50,98.80 661.50,115.70 666.70,115.70 666.70,131.30 670.70,131.30 670.70,147.30" stroke="#6ea96a" stroke-width="1.2" fill="none"/>
<polyline points="494.20,34.70 585.10,34.70 585.10,49.00 587.30,49.00 587.30,63.00 592.40,63.00 592.40,105.20 602.00,105.20 602.00,119.20 627.70,119.20 627.70,133.10 641.10,133.10 641.10,147.30" stroke="#d9737c" stroke-width="1.2" fill="none"/>
<polyline points="494.20,34.70 602.00,34.70 602.00,57.10 629.40,57.10 629.40,68.30 631.60,68.30 631.60,79.80 635.20,79.80 635.20,91.30 639.00,91.30 639.00,113.00 642.50,113.00 642.50,124.40 648.10,124.40 648.10,135.70 650.20,135.70 650.20,147.30" stroke="#5fd6f2" stroke-width="1.2" fill="none"/>
<line x1="494.20" y1="34.70" x2="602.00" y2="34.70" stroke="#6cc6c6" stroke-width="1.4"/>
<circle cx="670.5" cy="82.8" r="1.3" fill="#4e8a7a"/>
<circle cx="501" cy="34.7" r="1.2" fill="none" stroke="#e8a0b0" stroke-width="0.6"/>
<circle cx="575.7" cy="34.7" r="1.2" fill="none" stroke="#9ac0c0" stroke-width="0.6"/>
<circle cx="588.6" cy="34.7" r="1.2" fill="none" stroke="#78c8c0" stroke-width="0.6"/>
<circle cx="602.3" cy="34.7" r="1.2" fill="none" stroke="#60b0a0" stroke-width="0.6"/>
<polygon points="599.4,147.6 602.6,147.6 601.0,145.2" fill="#b0303a"/>
<polygon points="629.4,147.6 632.6,147.6 631.0,145.2" fill="#49a6e6"/>
<polygon points="650.6,147.6 653.8,147.6 652.2,145.2" fill="#2e8b3a"/>
<polygon points="675.1,147.6 678.3,147.6 676.7,145.2" fill="#111"/>
<line x1="601.30" y1="14.30" x2="631.20" y2="14.30" stroke="#bdbdbd" stroke-width="1.3"/>
<polygon points="611.75,6.95 612.41,8.39 613.98,8.57 612.82,9.65 613.13,11.20 611.75,10.43 610.37,11.20 610.68,9.65 609.52,8.57 611.09,8.39" fill="#1a1a1a"/>
<polygon points="616.25,6.95 616.91,8.39 618.48,8.57 617.32,9.65 617.63,11.20 616.25,10.43 614.87,11.20 615.18,9.65 614.02,8.57 615.59,8.39" fill="#1a1a1a"/>
<line x1="584.10" y1="21.90" x2="632.30" y2="21.90" stroke="#bdbdbd" stroke-width="1.3"/>
<polygon points="601.50,15.65 602.16,17.09 603.73,17.27 602.57,18.35 602.88,19.90 601.50,19.13 600.12,19.90 600.43,18.35 599.27,17.27 600.84,17.09" fill="#1a1a1a"/>
<polygon points="606.00,15.65 606.66,17.09 608.23,17.27 607.07,18.35 607.38,19.90 606.00,19.13 604.62,19.90 604.93,18.35 603.77,17.27 605.34,17.09" fill="#1a1a1a"/>
<polygon points="610.50,15.65 611.16,17.09 612.73,17.27 611.57,18.35 611.88,19.90 610.50,19.13 609.12,19.90 609.43,18.35 608.27,17.27 609.84,17.09" fill="#1a1a1a"/>
<line x1="601.30" y1="31.80" x2="620.60" y2="31.80" stroke="#bdbdbd" stroke-width="1.3"/>
<polygon points="611.40,25.15 612.06,26.59 613.63,26.77 612.47,27.85 612.78,29.40 611.40,28.63 610.02,29.40 610.33,27.85 609.17,26.77 610.74,26.59" fill="#1a1a1a"/>
<text x="624.30" y="28.00" font-size="7.4" textLength="10.40" lengthAdjust="spacingAndGlyphs" fill="#1a1a1a">NS</text>
<line x1="622.80" y1="28.90" x2="635.60" y2="28.90" stroke="#b0b0b0" stroke-width="1.1"/>
<text x="34.70" y="216.80" font-size="9.2" textLength="29.80" lengthAdjust="spacingAndGlyphs" fill="#1a1a1a">Control</text>
<text x="144.00" y="216.80" font-size="9.2" textLength="43.80" lengthAdjust="spacingAndGlyphs" fill="#1a1a1a">HNF4G-KO</text>
<text x="251.20" y="216.80" font-size="9.2" textLength="40.80" lengthAdjust="spacingAndGlyphs" fill="#1a1a1a">FOXA1-OE</text>
<text x="337.00" y="216.80" font-size="9.2" textLength="94.20" lengthAdjust="spacingAndGlyphs" fill="#1a1a1a">HNF4G-KO + FOXA1-OE</text>
<rect x="7.8" y="224.1" width="97.8" height="98.4" fill="#f3f3f3"/>
<rect x="120.1" y="224.1" width="98.6" height="98.4" fill="#f3f3f3"/>
<rect x="228.1" y="224.1" width="96.8" height="98.4" fill="#f3f3f3"/>
<rect x="334.2" y="224.1" width="99.4" height="98.4" fill="#f3f3f3"/>
<defs>
<filter id="tex" x="0" y="0" width="1" height="1">
<feTurbulence type="fractalNoise" baseFrequency="0.42" numOctaves="2" seed="4" result="n"/>
<feColorMatrix in="n" type="matrix" values="0 0 0 0 0.88  0 0 0 0 0.4  0 0 0 0 0.62  3.0 0 0 0 -1.6" result="m"/>
<feComposite in="m" in2="SourceAlpha" operator="in" result="m2"/>
<feTurbulence type="fractalNoise" baseFrequency="0.35" numOctaves="2" seed="11" result="n2"/>
<feColorMatrix in="n2" type="matrix" values="0 0 0 0 0.7  0 0 0 0 0.56  0 0 0 0 0.8  2.6 0 0 0 -1.35" result="p"/>
<feComposite in="p" in2="SourceAlpha" operator="in" result="p2"/>
<feTurbulence type="fractalNoise" baseFrequency="0.5" numOctaves="2" seed="21" result="n3"/>
<feColorMatrix in="n3" type="matrix" values="0 0 0 0 0.975  0 0 0 0 0.95  0 0 0 0 0.97  2.6 0 0 0 -1.35" result="w"/>
<feComposite in="w" in2="SourceAlpha" operator="in" result="w2"/>
<feMerge><feMergeNode in="SourceGraphic"/><feMergeNode in="p2"/><feMergeNode in="w2"/><feMergeNode in="m2"/></feMerge>
</filter>
<filter id="tex3" x="0" y="0" width="1" height="1">
<feTurbulence type="fractalNoise" baseFrequency="0.6" numOctaves="2" seed="7" result="n"/>
<feColorMatrix in="n" type="matrix" values="0 0 0 0 0.97  0 0 0 0 0.93  0 0 0 0 0.96  3.0 0 0 0 -1.55" result="w"/>
<feComposite in="w" in2="SourceAlpha" operator="in" result="w2"/>
<feTurbulence type="fractalNoise" baseFrequency="0.8" numOctaves="1" seed="12" result="n2"/>
<feColorMatrix in="n2" type="matrix" values="0 0 0 0 0.85  0 0 0 0 0.3  0 0 0 0 0.55  2.8 0 0 0 -1.5" result="p"/>
<feComposite in="p" in2="SourceAlpha" operator="in" result="p2"/>
<feMerge><feMergeNode in="SourceGraphic"/><feMergeNode in="w2"/><feMergeNode in="p2"/></feMerge>
</filter>
</defs>
<g filter="url(#tex)">
<path d="M8.0,270.0 C8.8,264.9 10.7,262.4 12.5,259.0 C14.3,255.7 16.8,252.7 18.7,249.9 C20.6,247.1 22.1,244.4 23.8,242.3 C25.5,240.2 27.1,238.6 28.8,237.2 C30.5,235.8 32.3,234.7 33.9,234.1 C35.5,233.5 37.0,233.6 38.5,233.6 C40.0,233.6 41.7,234.3 42.8,234.1 C43.9,233.9 44.6,232.6 45.3,232.2 C46.0,231.8 46.3,231.2 47.2,231.8 C48.1,232.4 50.0,234.5 50.9,236.0 C51.8,237.5 52.2,238.9 52.9,240.9 C53.6,242.9 54.1,246.3 54.9,247.9 C55.7,249.5 56.9,250.2 57.9,250.5 C58.9,250.8 59.9,249.9 61.0,250.0 C62.1,250.1 63.4,250.5 64.5,251.0 C65.6,251.5 66.4,252.3 67.5,253.0 C68.6,253.7 69.4,254.2 71.0,255.0 C72.6,255.8 74.5,257.2 77.0,257.5 C79.5,257.8 83.2,257.6 86.0,257.0 C88.8,256.4 91.8,253.9 94.0,253.6 C96.2,253.3 97.8,254.1 99.2,255.0 C100.6,255.9 101.5,256.8 102.4,259.0 C103.3,261.2 104.0,263.8 104.4,268.4 C104.8,273.0 105.0,280.7 105.0,286.8 C105.0,292.9 105.0,301.2 104.7,305.2 C104.4,309.2 104.4,310.3 103.2,310.8 C102.0,311.3 99.6,308.8 97.4,308.0 C95.2,307.2 92.5,306.3 90.0,306.2 C87.5,306.1 85.0,306.3 82.6,307.1 C80.1,307.9 77.4,309.3 75.3,310.8 C73.2,312.3 71.2,314.6 69.7,316.3 C68.2,318.0 67.4,319.9 66.0,320.9 C64.6,321.9 62.9,322.5 61.5,322.2 C60.1,321.9 58.7,320.5 57.5,319.0 C56.3,317.5 55.8,313.9 54.5,313.0 C53.2,312.1 51.2,312.8 50.0,313.5 C48.8,314.2 48.3,316.4 47.1,317.1 C45.9,317.8 43.9,318.2 42.7,317.9 C41.5,317.5 40.6,316.5 39.8,315.0 C38.9,313.5 38.3,311.0 37.6,309.0 C36.9,307.0 36.5,305.2 35.4,303.0 C34.3,300.8 32.7,297.9 31.0,295.8 C29.3,293.7 27.3,291.6 25.1,290.5 C22.9,289.4 20.6,289.2 17.7,289.0 C14.8,288.8 9.6,292.7 8.0,289.5 C6.4,286.3 7.2,275.1 8.0,270.0 Z" fill="#efdde9"/>
<path d="M34.2,307.8 C34.6,307.1 35.9,306.8 36.5,307.5 C37.1,308.2 37.7,310.4 37.8,312.0 C37.9,313.6 37.7,316.0 37.2,316.8 C36.7,317.6 35.5,317.8 35.0,317.0 C34.5,316.2 34.0,313.5 33.9,312.0 C33.8,310.5 33.8,308.6 34.2,307.8 Z" fill="#efdde9"/>
</g>
<path d="M7.6,268.8 L17.2,272.2 L7.6,278.2 Z" fill="#f3f3f3"/>
<path d="M48.5,271.5 C48.1,270.5 47.7,275.3 47.0,277.0 C46.3,278.7 45.5,280.3 44.5,281.5 C43.5,282.7 41.0,283.5 41.0,284.0 C41.0,284.5 43.4,284.1 44.5,284.6 C45.6,285.1 46.7,287.3 47.5,287.0 C48.3,286.7 49.0,285.6 49.2,283.0 C49.4,280.4 48.9,272.5 48.5,271.5 Z" fill="#f3f3f3"/>
<path d="M55.4,285.5 C56.1,284.3 58.0,285.6 58.6,288.0 C59.2,290.4 59.1,295.8 59.0,300.0 C58.9,304.2 58.7,310.3 58.2,313.0 C57.7,315.7 56.7,317.3 56.2,316.0 C55.7,314.7 55.3,308.5 55.0,305.0 C54.7,301.5 54.3,298.2 54.4,295.0 C54.5,291.8 54.7,286.7 55.4,285.5 Z" fill="#f3f3f3"/>
<path d="M45.0,241.9 L48.0,244.8 L50.9,247.9" stroke="#f3f3f3" stroke-width="1.6" fill="none" stroke-linecap="round" stroke-linejoin="round"/>
<path d="M74.5,262.2 L80.0,259.8 L86.0,257.5 L92.0,255.6 L97.0,253.6 L101.5,252.8" stroke="#f3f3f3" stroke-width="1.6" fill="none" stroke-linecap="round" stroke-linejoin="round"/>
<path d="M69.5,229.5 C70.5,227.9 72.5,226.7 74.5,225.8 C76.5,225.0 78.8,224.7 81.4,224.4 C84.0,224.2 87.2,224.2 90.0,224.3 C92.8,224.5 96.5,224.2 98.2,225.3 C99.9,226.4 100.0,228.6 100.2,231.0 C100.4,233.4 100.3,236.8 99.4,239.5 C98.5,242.2 96.4,244.9 94.6,247.1 C92.8,249.3 90.6,251.2 88.5,252.5 C86.4,253.8 84.1,254.7 82.0,255.0 C79.9,255.3 77.8,255.3 76.1,254.6 C74.3,253.8 72.7,252.4 71.5,250.5 C70.3,248.6 69.3,245.5 68.8,243.0 C68.3,240.5 68.5,237.8 68.6,235.5 C68.7,233.2 68.5,231.1 69.5,229.5 Z" fill="#e589b8"/>
<path d="M59.2,249.0 L59.9,242.0 L61.9,236.5 L64.9,233.0 L68.8,230.0 L72.5,227.5" stroke="#eb9cc0" stroke-width="2.6" fill="none" stroke-linecap="round" stroke-linejoin="round"/>
<path d="M60.5,246.0 L61.5,240.0 L63.5,236.0 L67.0,232.5" stroke="#f6e0ea" stroke-width="0.8" fill="none" stroke-linecap="round" stroke-linejoin="round"/>
<path d="M16.0,280.9 L22.0,280.1 L29.9,278.4" stroke="#e04d85" stroke-width="1.1" fill="none" stroke-linecap="round" stroke-linejoin="round"/>
<path d="M22.4,279.4 L22.6,284.0" stroke="#e04d85" stroke-width="0.9" fill="none" stroke-linecap="round" stroke-linejoin="round"/>
<path d="M40.5,259.0 L48.0,256.5 L56.0,253.5 L63.0,251.5" stroke="#e04d85" stroke-width="1.8" fill="none" stroke-linecap="round" stroke-linejoin="round"/>
<path d="M44.0,261.5 L52.0,259.5 L60.0,257.0 L66.0,255.5" stroke="#e2508a" stroke-width="1.6" fill="none" stroke-linecap="round" stroke-linejoin="round"/>
<path d="M47.0,263.5 L55.0,262.2 L62.0,260.5" stroke="#e46c98" stroke-width="1.4" fill="none" stroke-linecap="round" stroke-linejoin="round"/>
<path d="M40.0,252.5 L44.0,255.0" stroke="#e04d85" stroke-width="1.4" fill="none" stroke-linecap="round" stroke-linejoin="round"/>
<path d="M33.0,264.0 L38.0,263.2" stroke="#e46c98" stroke-width="1.2" fill="none" stroke-linecap="round" stroke-linejoin="round"/>
<path d="M68.5,266.0 L67.5,276.0 L64.5,290.0 L61.5,301.0 L59.5,309.0" stroke="#e04d85" stroke-width="2.4" fill="none" stroke-linecap="round" stroke-linejoin="round"/>
<path d="M67.8,270.0 L66.0,281.0 L63.5,292.0" stroke="#f3d4e2" stroke-width="0.7" fill="none" stroke-linecap="round" stroke-linejoin="round"/>
<path d="M58.5,316.0 L57.5,319.5" stroke="#e46090" stroke-width="2.2" fill="none" stroke-linecap="round" stroke-linejoin="round"/>
<path d="M77.1,287.0 L77.0,293.0 L76.6,298.0" stroke="#e04d85" stroke-width="1.3" fill="none" stroke-linecap="round" stroke-linejoin="round"/>
<path d="M88.0,290.0 L92.0,293.0 L95.0,292.0" stroke="#e46c98" stroke-width="0.9" fill="none" stroke-linecap="round" stroke-linejoin="round"/>
<path d="M30.0,252.0 L34.0,251.0" stroke="#e04d85" stroke-width="1.2" fill="none" stroke-linecap="round" stroke-linejoin="round"/>
<path d="M28.0,238.5 L30.0,237.7" stroke="#e04d85" stroke-width="1.0" fill="none" stroke-linecap="round" stroke-linejoin="round"/>
<path d="M75.3,281.0 C75.5,279.8 77.1,279.5 78.0,279.6 C78.9,279.7 80.5,280.5 80.8,281.5 C81.1,282.5 80.6,284.6 80.0,285.5 C79.4,286.4 77.8,287.8 77.0,287.0 C76.2,286.2 75.1,282.2 75.3,281.0 Z" fill="#bfa0cc"/>
<path d="M84.0,279.0 C84.2,278.4 86.0,278.2 86.5,278.5 C87.0,278.8 87.2,280.4 87.0,281.0 C86.8,281.6 85.5,282.3 85.0,282.0 C84.5,281.7 83.8,279.6 84.0,279.0 Z" fill="#c9aed6"/>
<path d="M64.0,271.5 C64.4,270.5 66.4,270.2 67.0,271.0 C67.6,271.8 68.0,275.0 67.6,276.0 C67.2,277.0 65.2,277.8 64.6,277.0 C64.0,276.2 63.6,272.5 64.0,271.5 Z" fill="#c4a6d0"/>
<g filter="url(#tex)">
<path d="M125.8,273.7 C125.6,269.7 126.0,264.9 126.4,261.0 C126.8,257.1 127.3,253.6 128.3,250.5 C129.3,247.4 130.7,244.9 132.2,242.7 C133.7,240.5 135.4,238.8 137.4,237.5 C139.4,236.2 142.0,235.4 143.9,234.9 C145.8,234.4 147.4,234.2 149.0,234.3 C150.6,234.5 152.3,234.9 153.5,235.8 C154.7,236.8 154.9,238.3 156.0,240.0 C157.1,241.7 158.3,244.2 160.0,246.0 C161.7,247.8 164.0,249.6 166.0,251.0 C168.0,252.4 169.7,253.5 172.0,254.5 C174.3,255.5 176.7,256.8 180.0,257.0 C183.3,257.2 188.2,256.2 192.0,255.5 C195.8,254.8 199.8,254.0 203.0,253.0 C206.2,252.0 209.1,250.4 211.0,249.5 C212.9,248.6 214.1,245.8 214.6,247.5 C215.1,249.2 214.3,255.8 214.2,260.0 C214.1,264.2 213.9,266.5 213.9,273.0 C213.9,279.5 214.2,294.4 213.9,299.2 C213.6,304.0 213.2,300.9 212.0,301.8 C210.8,302.7 208.8,303.5 206.8,304.3 C204.9,305.1 202.5,305.8 200.3,306.9 C198.2,308.0 195.8,309.5 193.9,310.8 C192.0,312.1 190.0,313.6 188.7,314.7 C187.4,315.8 187.0,317.0 186.1,317.3 C185.2,317.6 184.4,317.5 183.5,316.6 C182.6,315.7 181.6,314.2 180.9,312.1 C180.2,310.1 180.0,307.2 179.6,304.3 C179.2,301.4 178.9,295.7 178.5,295.0 C178.1,294.3 177.8,297.5 177.0,300.0 C176.2,302.5 175.3,308.2 174.0,310.0 C172.7,311.8 170.7,310.0 169.1,310.8 C167.5,311.6 166.4,313.5 164.6,314.7 C162.8,315.9 160.5,317.4 158.1,317.9 C155.7,318.4 152.9,318.4 150.3,317.9 C147.7,317.4 145.0,316.3 142.6,314.7 C140.2,313.1 138.0,311.0 136.1,308.2 C134.2,305.4 132.3,301.8 130.9,297.9 C129.5,294.0 128.6,288.9 127.7,284.9 C126.8,280.9 126.0,277.7 125.8,273.7 Z" fill="#ebd3e4"/>
<path d="M172.0,289.0 C172.8,287.6 175.4,287.5 176.5,288.5 C177.6,289.5 178.1,292.6 178.3,295.0 C178.6,297.4 178.5,300.9 178.0,303.0 C177.5,305.1 176.5,307.2 175.5,307.5 C174.5,307.8 172.9,306.8 172.2,305.0 C171.5,303.2 171.5,299.7 171.5,297.0 C171.5,294.3 171.2,290.4 172.0,289.0 Z" fill="#edd0e0"/>
</g>
<g opacity="0.7" filter="url(#tex)">
<path d="M137.5,273.0 C138.3,271.8 142.1,271.4 145.0,271.0 C147.9,270.6 152.0,270.7 155.0,270.5 C158.0,270.3 160.5,269.9 163.0,270.0 C165.5,270.1 169.0,270.0 170.0,271.0 C171.0,272.0 170.7,274.8 169.0,276.0 C167.3,277.2 163.2,277.9 160.0,278.5 C156.8,279.1 153.3,279.5 150.0,279.5 C146.7,279.5 142.1,279.6 140.0,278.5 C137.9,277.4 136.7,274.2 137.5,273.0 Z" fill="#cdb4d8"/>
<path d="M143.0,266.0 C144.2,263.9 147.7,263.7 150.0,263.5 C152.3,263.3 155.7,263.6 157.0,265.0 C158.3,266.4 158.3,269.7 158.0,272.0 C157.7,274.3 156.7,277.6 155.0,279.0 C153.3,280.4 150.0,281.1 148.0,280.6 C146.0,280.1 143.8,278.4 143.0,276.0 C142.2,273.6 141.8,268.1 143.0,266.0 Z" fill="#b496c6"/>
<path d="M163.5,264.0 C164.2,262.0 167.2,262.6 169.0,262.8 C170.8,263.0 173.2,263.5 174.0,265.0 C174.8,266.5 174.2,270.1 173.5,272.0 C172.8,273.9 171.4,276.0 170.0,276.5 C168.6,277.0 166.1,277.1 165.0,275.0 C163.9,272.9 162.8,266.0 163.5,264.0 Z" fill="#b496c6"/>
<path d="M178.5,269.0 C179.2,267.7 181.5,267.6 183.0,268.3 C184.5,269.0 186.7,270.9 187.5,273.0 C188.3,275.1 188.2,278.8 188.0,281.0 C187.8,283.2 187.1,285.7 186.0,286.0 C184.9,286.3 182.7,284.7 181.5,283.0 C180.3,281.3 179.5,278.3 179.0,276.0 C178.5,273.7 177.8,270.3 178.5,269.0 Z" fill="#b99bc9"/>
<path d="M153.0,244.0 C153.6,243.5 156.2,243.8 156.8,244.5 C157.4,245.2 157.1,247.4 156.5,247.9 C155.9,248.4 153.8,248.2 153.2,247.5 C152.6,246.8 152.4,244.5 153.0,244.0 Z" fill="#bfa2cd"/>
<path d="M128.0,262.0 C128.5,261.0 131.2,260.3 132.0,261.0 C132.8,261.7 133.5,265.0 133.0,266.0 C132.5,267.0 129.8,267.7 129.0,267.0 C128.2,266.3 127.5,263.0 128.0,262.0 Z" fill="#c8acd4"/>
</g>
<path d="M154.2,248.5 C154.7,247.6 156.5,247.1 158.0,247.5 C159.5,247.9 162.6,249.6 163.3,251.0 C164.0,252.4 162.5,254.4 162.0,256.0 C161.5,257.6 161.2,260.5 160.5,260.8 C159.8,261.1 158.4,259.3 157.5,258.0 C156.6,256.7 155.6,254.6 155.0,253.0 C154.4,251.4 153.7,249.4 154.2,248.5 Z" fill="#f3f3f3"/>
<path d="M171.5,273.7 C172.0,272.4 174.1,271.9 175.0,273.0 C175.9,274.1 176.8,277.1 177.0,280.0 C177.2,282.9 177.2,288.8 176.5,290.1 C175.8,291.4 173.8,289.5 173.0,288.0 C172.2,286.5 172.2,283.4 172.0,281.0 C171.8,278.6 171.0,275.0 171.5,273.7 Z" fill="#f3f3f3"/>
<path d="M126.5,273.5 L133.0,271.5 L140.0,269.5 L147.2,267.5 L153.0,265.0 L157.2,261.0" stroke="#f3f3f3" stroke-width="1.3" fill="none" stroke-linecap="round" stroke-linejoin="round"/>
<path d="M170.6,257.8 L180.0,256.3 L190.0,254.8 L200.0,252.7 L208.0,250.3 L213.3,247.9" stroke="#f3f3f3" stroke-width="1.3" fill="none" stroke-linecap="round" stroke-linejoin="round"/>
<path d="M141.3,291.5 L143.5,295.0 L146.5,301.8" stroke="#f7f7f7" stroke-width="0.9" fill="none" stroke-linecap="round" stroke-linejoin="round"/>
<path d="M156.8,298.0 L158.5,302.0 L159.4,305.6" stroke="#f7f7f7" stroke-width="0.9" fill="none" stroke-linecap="round" stroke-linejoin="round"/>
<path d="M172,289 C176.5,288.5 178.3,295 178,303 C177.5,307 175.5,307.5 174,307 C172.2,305 171.5,297 172,289 Z" fill="none" stroke="#e27fa8" stroke-width="1.1"/>
<path d="M155.6,238.3 C155.6,236.2 156.4,233.6 157.2,232.2 C158.0,230.8 159.0,230.5 160.2,229.7 C161.4,228.9 162.6,228.2 164.3,227.6 C166.0,227.0 167.7,226.5 170.4,226.3 C173.1,226.1 177.2,226.1 180.6,226.6 C184.0,227.1 187.5,228.3 190.9,229.2 C194.3,230.1 197.7,230.9 201.1,232.2 C204.5,233.5 208.9,235.4 211.3,236.8 C213.7,238.2 214.9,239.6 215.4,240.9 C215.9,242.2 215.2,243.4 214.4,244.5 C213.6,245.6 212.5,246.5 210.3,247.5 C208.1,248.5 204.3,249.8 201.1,250.6 C197.9,251.4 194.3,251.9 190.9,252.6 C187.5,253.3 183.2,254.3 180.6,254.7 C178.0,255.1 177.2,255.4 175.5,255.2 C173.8,255.0 172.1,254.3 170.4,253.7 C168.7,253.1 167.0,252.4 165.3,251.6 C163.6,250.8 161.5,249.8 160.2,248.6 C158.8,247.4 158.0,246.2 157.2,244.5 C156.4,242.8 155.6,240.4 155.6,238.3 Z" fill="#e6658c"/>
<path d="M179.1,240.4 C178.1,239.1 177.3,238.5 177.6,237.3 C177.8,236.1 179.2,234.0 180.6,233.2 C182.0,232.3 184.1,232.7 185.8,232.2 C187.5,231.7 188.7,230.3 190.9,230.2 C193.1,230.1 195.7,230.4 199.0,231.4 C202.3,232.4 207.8,234.7 210.5,236.3 C213.2,237.9 214.5,239.6 215.1,240.9 C215.7,242.2 215.0,243.3 214.1,244.4 C213.2,245.5 212.0,246.5 209.5,247.3 C207.0,248.1 202.3,248.9 199.0,249.1 C195.7,249.3 192.4,249.1 189.8,248.4 C187.2,247.7 185.5,246.3 183.7,245.0 C181.9,243.7 180.1,241.7 179.1,240.4 Z" fill="#e999bf"/>
<path d="M163.3,229.7 L164.5,234.0 L166.3,239.4 L170.0,246.0 L175.5,251.6" stroke="#f0bcd4" stroke-width="1.8" fill="none" stroke-linecap="round" stroke-linejoin="round"/>
<path d="M163.6,231.0 L165.0,236.0 L167.0,241.0 L170.5,246.5" stroke="#f8ecf2" stroke-width="0.6" fill="none" stroke-linecap="round" stroke-linejoin="round"/>
<path d="M188.8,230.7 L185.8,232.2 L180.6,233.2 L177.6,237.3 L179.1,240.4 L183.7,245.5 L189.8,248.6 L199.0,249.6" stroke="#f7e6ee" stroke-width="0.8" fill="none" stroke-linecap="round" stroke-linejoin="round"/>
<path d="M159.4,262.8 C159.7,261.7 161.7,261.4 163.0,261.5 C164.3,261.6 166.7,262.4 167.2,263.5 C167.7,264.6 167.0,267.2 166.0,268.0 C165.0,268.8 162.1,269.2 161.0,268.3 C159.9,267.4 159.1,263.9 159.4,262.8 Z" fill="#e0507c"/>
<path d="M143.9,243.3 L148.0,249.0 L152.9,256.3" stroke="#e0548a" stroke-width="1.4" fill="none" stroke-linecap="round" stroke-linejoin="round"/>
<path d="M136.1,253.7 L141.0,252.0 L145.8,249.8" stroke="#e0548a" stroke-width="1.1" fill="none" stroke-linecap="round" stroke-linejoin="round"/>
<path d="M137.4,258.9 L141.5,257.5 L145.8,256.3" stroke="#e0548a" stroke-width="1.1" fill="none" stroke-linecap="round" stroke-linejoin="round"/>
<path d="M140.6,256.9 L141.9,260.8" stroke="#e0548a" stroke-width="1.0" fill="none" stroke-linecap="round" stroke-linejoin="round"/>
<path d="M137.4,283.6 L141.0,281.5 L145.2,279.8" stroke="#e0548a" stroke-width="1.7" fill="none" stroke-linecap="round" stroke-linejoin="round"/>
<path d="M146.5,287.5 L151.0,285.5 L156.8,283.0 L160.7,279.8" stroke="#e0548a" stroke-width="2.0" fill="none" stroke-linecap="round" stroke-linejoin="round"/>
<path d="M156.8,283.0 L158.0,289.0 L159.4,295.3" stroke="#e0548a" stroke-width="2.2" fill="none" stroke-linecap="round" stroke-linejoin="round"/>
<path d="M152.9,292.7 L155.0,288.0 L156.8,283.5" stroke="#e0548a" stroke-width="1.0" fill="none" stroke-linecap="round" stroke-linejoin="round"/>
<path d="M154.2,300.0 L154.2,306.9" stroke="#e0548a" stroke-width="0.9" fill="none" stroke-linecap="round" stroke-linejoin="round"/>
<path d="M177.0,268.3 L181.0,276.0 L186.0,283.0 L190.0,290.1" stroke="#e06090" stroke-width="1.5" fill="none" stroke-linecap="round" stroke-linejoin="round"/>
<path d="M188.7,279.8 L190.5,284.0 L192.0,288.8" stroke="#e05080" stroke-width="2.2" fill="none" stroke-linecap="round" stroke-linejoin="round"/>
<path d="M128.5,266.0 L131.0,265.0" stroke="#e0548a" stroke-width="1.0" fill="none" stroke-linecap="round" stroke-linejoin="round"/>
<g filter="url(#tex3)">
<path d="M263.0,247.0 C264.3,245.8 269.2,248.3 272.0,249.0 C274.8,249.7 277.3,250.2 280.0,251.0 C282.7,251.8 285.7,252.8 288.0,254.0 C290.3,255.2 292.7,256.3 294.0,258.0 C295.3,259.7 296.3,262.0 296.0,264.0 C295.7,266.0 293.2,268.4 292.0,270.0 C290.8,271.6 290.5,272.5 288.8,273.5 C287.1,274.5 283.8,275.9 282.0,276.0 C280.2,276.1 279.7,275.0 278.0,274.0 C276.3,273.0 273.7,271.3 272.0,270.0 C270.3,268.7 269.2,267.3 268.0,266.0 C266.8,264.7 265.7,263.7 265.0,262.0 C264.3,260.3 264.3,258.5 264.0,256.0 C263.7,253.5 261.7,248.2 263.0,247.0 Z" fill="#eedbe6"/>
<path d="M229.7,277.8 C229.8,274.8 230.0,270.1 230.5,267.4 C231.0,264.7 231.7,263.3 232.7,261.4 C233.7,259.5 235.2,257.4 236.4,256.2 C237.7,255.0 239.1,254.2 240.2,254.0 C241.3,253.8 242.8,253.7 243.2,254.7 C243.6,255.7 242.3,257.8 242.4,259.9 C242.5,262.0 243.4,264.9 243.9,267.4 C244.4,269.9 245.7,272.2 245.4,274.9 C245.2,277.6 243.7,281.3 242.4,283.8 C241.2,286.3 239.4,288.1 237.9,289.8 C236.4,291.6 234.6,294.1 233.5,294.3 C232.4,294.6 231.8,292.8 231.2,291.3 C230.6,289.8 229.9,287.6 229.7,285.3 C229.4,283.1 229.6,280.8 229.7,277.8 Z" fill="#de8cb0"/>
<path d="M243.2,254.7 C243.5,253.1 242.9,251.7 244.0,250.5 C245.1,249.3 248.0,248.2 250.0,247.5 C252.0,246.8 253.9,246.9 255.9,246.5 C257.9,246.1 260.3,244.8 262.0,245.0 C263.7,245.2 265.7,246.2 266.0,248.0 C266.3,249.8 264.2,253.7 264.0,256.0 C263.8,258.3 264.3,260.3 265.0,262.0 C265.7,263.7 268.5,264.7 268.0,266.0 C267.5,267.3 264.0,269.4 262.0,270.0 C260.0,270.6 258.2,270.5 255.9,269.6 C253.6,268.7 250.7,266.0 248.4,264.4 C246.2,262.8 243.3,261.5 242.4,259.9 C241.5,258.3 242.9,256.3 243.2,254.7 Z" fill="#d6b8d6"/>
<path d="M255.9,269.6 C258.7,268.4 260.0,270.6 262.0,270.0 C264.0,269.4 266.3,266.0 268.0,266.0 C269.7,266.0 270.7,268.5 272.0,270.0 C273.3,271.5 274.9,272.5 276.0,275.0 C277.1,277.5 278.1,281.7 278.3,285.0 C278.5,288.3 277.6,291.7 277.0,295.0 C276.4,298.3 275.7,302.2 275.0,305.0 C274.3,307.8 273.7,309.6 273.0,312.0 C272.3,314.4 272.3,317.9 271.0,319.5 C269.7,321.1 267.2,321.6 265.0,321.5 C262.8,321.4 260.2,320.4 258.0,319.0 C255.8,317.6 254.2,314.7 252.0,313.0 C249.8,311.3 247.3,310.3 245.0,309.0 C242.7,307.7 239.8,306.5 238.0,305.0 C236.2,303.5 234.5,301.6 234.0,300.0 C233.5,298.4 234.1,297.9 235.0,295.7 C235.9,293.5 237.7,289.9 239.4,286.8 C241.1,283.7 242.7,280.0 245.4,277.1 C248.2,274.2 253.1,270.8 255.9,269.6 Z" fill="#cbb0d6"/>
<path d="M288.8,273.5 C291.5,272.2 296.3,274.0 299.2,274.5 C302.1,275.0 304.2,276.0 306.0,276.5 C307.8,277.0 308.9,279.1 309.7,277.7 C310.5,276.3 310.4,270.8 310.7,268.0 C311.0,265.2 311.1,262.0 311.5,261.0 C311.9,260.0 312.3,261.1 313.0,262.0 C313.7,262.9 314.8,264.6 315.5,266.6 C316.2,268.6 317.0,270.9 317.5,274.0 C318.0,277.1 318.3,280.7 318.4,285.0 C318.5,289.3 318.3,296.1 318.0,300.0 C317.7,303.9 317.3,307.1 316.5,308.5 C315.7,309.9 314.6,308.9 313.0,308.3 C311.4,307.8 309.2,305.9 306.9,305.2 C304.6,304.5 301.7,304.1 299.1,304.4 C296.5,304.7 293.7,305.6 291.4,306.8 C289.1,308.0 287.4,309.9 285.3,311.4 C283.2,312.9 280.8,314.6 279.1,316.0 C277.4,317.4 275.9,320.7 275.0,319.5 C274.1,318.3 272.9,313.5 273.5,309.0 C274.1,304.5 276.7,296.8 278.3,292.3 C279.9,287.8 281.2,285.1 283.0,282.0 C284.8,278.9 286.1,274.8 288.8,273.5 Z" fill="#e28db2"/>
</g>
<g opacity="0.45" filter="url(#tex)">
<path d="M244.0,283.0 C246.2,280.8 249.0,280.2 252.0,279.0 C255.0,277.8 259.3,274.5 262.0,276.0 C264.7,277.5 266.7,284.0 268.0,288.0 C269.3,292.0 270.7,296.0 270.0,300.0 C269.3,304.0 266.7,310.3 264.0,312.0 C261.3,313.7 257.3,311.7 254.0,310.0 C250.7,308.3 246.5,305.0 244.0,302.0 C241.5,299.0 239.0,295.2 239.0,292.0 C239.0,288.8 241.8,285.2 244.0,283.0 Z" fill="#a98cc4"/>
<path d="M232.0,266.0 C232.5,264.2 234.8,262.0 236.0,262.0 C237.2,262.0 238.8,264.3 239.0,266.0 C239.2,267.7 238.0,270.8 237.0,272.0 C236.0,273.2 233.8,274.0 233.0,273.0 C232.2,272.0 231.5,267.8 232.0,266.0 Z" fill="#a98cc4"/>
<path d="M247.0,253.0 C247.7,251.2 252.0,249.8 254.0,250.0 C256.0,250.2 258.7,252.0 259.0,254.0 C259.3,256.0 257.5,260.8 256.0,262.0 C254.5,263.2 251.5,262.5 250.0,261.0 C248.5,259.5 246.3,254.8 247.0,253.0 Z" fill="#a98cc4"/>
</g>
<g opacity="0.35">
<path d="M286.0,278.0 C288.8,275.7 294.7,275.7 298.0,276.0 C301.3,276.3 303.3,277.7 306.0,280.0 C308.7,282.3 312.5,286.3 314.0,290.0 C315.5,293.7 316.5,299.8 315.0,302.0 C313.5,304.2 308.5,303.0 305.0,303.0 C301.5,303.0 297.2,302.5 294.0,302.0 C290.8,301.5 288.2,302.0 286.0,300.0 C283.8,298.0 281.0,293.7 281.0,290.0 C281.0,286.3 283.2,280.3 286.0,278.0 Z" fill="#d8487e"/>
<path d="M233.0,270.0 C234.0,266.3 236.5,262.3 238.0,262.0 C239.5,261.7 241.5,265.3 242.0,268.0 C242.5,270.7 242.0,275.0 241.0,278.0 C240.0,281.0 237.5,285.0 236.0,286.0 C234.5,287.0 232.5,286.7 232.0,284.0 C231.5,281.3 232.0,273.7 233.0,270.0 Z" fill="#d8487e"/>
</g>
<path d="M256.0,294.3 L262.0,287.0 L267.8,280.8" stroke="#f6f4f5" stroke-width="1.4" fill="none" stroke-linecap="round" stroke-linejoin="round"/>
<path d="M263.3,283.8 L266.0,277.0 L269.3,270.4" stroke="#f6f4f5" stroke-width="1.1" fill="none" stroke-linecap="round" stroke-linejoin="round"/>
<path d="M277.5,279.0 L276.0,292.0 L274.5,303.0 L273.5,313.0" stroke="#f3f3f3" stroke-width="1.6" fill="none" stroke-linecap="round" stroke-linejoin="round"/>
<path d="M269.3,264.6 L272.3,265.6" stroke="#e0406e" stroke-width="1.3" fill="none" stroke-linecap="round" stroke-linejoin="round"/>
<path d="M262.5,248.9 L262.0,244.9 L265.0,239.9 L269.9,234.9 L274.9,231.5 L282.9,228.5 L290.8,227.0 L298.8,227.5 L304.8,231.0 L307.3,236.9 L306.8,243.9 L302.8,250.9 L297.8,255.8 L291.8,258.8 L287.9,257.8 L289.8,250.9 L293.8,243.9 L297.8,237.9 L299.8,232.9 L295.8,232.9 L290.8,236.9 L286.9,241.9 L281.9,245.9 L275.9,248.9 L269.9,250.9 L265.0,251.9 Z" fill="#e57ca5" stroke="#e57ca5" stroke-width="0.8" stroke-linejoin="round"/>
<path d="M267.0,248.0 L272.0,243.0 L278.0,237.5 L285.9,230.8" stroke="#f0b8d0" stroke-width="1.3" fill="none" stroke-linecap="round" stroke-linejoin="round"/>
<path d="M303.5,234.0 L304.0,240.0" stroke="#f0b0cc" stroke-width="0.8" fill="none" stroke-linecap="round" stroke-linejoin="round"/>
<g filter="url(#tex)">
<path d="M334.6,253.7 C335.5,251.0 338.1,254.7 339.8,255.6 C341.5,256.5 343.0,258.2 344.9,258.9 C346.8,259.5 349.2,259.1 351.4,259.5 C353.6,259.9 355.8,261.1 357.9,261.5 C360.0,261.9 362.1,262.2 364.3,262.1 C366.5,262.0 369.1,261.2 370.8,260.8 C372.5,260.4 373.0,259.3 374.7,259.5 C376.4,259.7 379.0,261.6 381.2,262.1 C383.4,262.6 385.7,262.5 388.0,262.5 C390.3,262.5 392.6,262.4 394.9,262.1 C397.2,261.9 399.8,261.4 402.0,261.0 C404.2,260.6 406.1,260.0 407.9,259.5 C409.7,259.0 412.6,257.8 413.0,258.2 C413.4,258.6 412.2,260.7 410.0,262.0 C407.8,263.3 403.0,265.0 400.0,266.0 C397.0,267.0 394.4,267.3 392.0,268.0 C389.6,268.7 386.8,266.3 385.5,270.0 C384.2,273.7 384.5,284.2 384.3,290.0 C384.1,295.8 384.4,300.2 384.5,305.0 C384.6,309.8 385.2,316.1 385.0,319.0 C384.8,321.9 384.1,321.9 383.5,322.3 C382.9,322.7 382.4,322.0 381.2,321.2 C379.9,320.4 378.2,318.4 376.0,317.3 C373.8,316.2 370.8,315.8 368.2,314.7 C365.6,313.6 363.3,312.1 360.5,310.8 C357.7,309.5 354.4,308.4 351.4,306.9 C348.4,305.4 344.2,304.4 342.3,301.8 C340.4,299.2 340.7,294.6 339.8,291.4 C338.9,288.1 338.1,285.5 337.2,282.3 C336.3,279.1 335.0,276.8 334.6,272.0 C334.2,267.2 333.7,256.4 334.6,253.7 Z" fill="#ebd3e4"/>
<path d="M393.6,277.4 C394.9,275.6 398.1,274.9 400.5,274.3 C402.9,273.7 405.4,274.4 408.2,273.6 C411.0,272.8 415.4,271.1 417.5,269.7 C419.6,268.3 419.8,266.4 420.6,265.1 C421.4,263.8 421.3,261.8 422.1,262.0 C422.9,262.2 423.9,264.8 425.2,266.6 C426.5,268.4 428.5,271.0 429.8,272.8 C431.1,274.6 432.6,275.6 432.9,277.4 C433.2,279.2 432.7,281.5 431.4,283.6 C430.1,285.7 427.0,288.0 425.2,289.8 C423.4,291.6 422.1,292.3 420.6,294.4 C419.1,296.4 417.6,299.5 416.0,302.1 C414.4,304.7 412.9,307.5 411.3,309.8 C409.8,312.1 408.0,314.2 406.7,316.0 C405.4,317.8 404.7,320.3 403.6,320.6 C402.5,320.9 401.0,319.3 400.0,318.0 C399.0,316.7 398.3,315.5 397.4,312.9 C396.4,310.2 394.9,305.4 394.3,302.1 C393.7,298.8 393.9,295.7 393.6,292.9 C393.4,290.1 392.8,287.7 392.8,285.1 C392.8,282.5 392.3,279.2 393.6,277.4 Z" fill="#ecd5e5"/>
<path d="M388.2,274.5 C388.6,272.9 390.1,273.2 391.0,273.6 C391.9,274.0 393.2,275.3 393.6,277.0 C394.0,278.7 393.6,281.8 393.3,284.0 C393.0,286.2 392.6,289.5 392.0,290.5 C391.4,291.5 390.1,291.2 389.5,290.0 C388.9,288.8 388.5,285.6 388.3,283.0 C388.1,280.4 387.8,276.1 388.2,274.5 Z" fill="#e9c4d8"/>
</g>
<path d="M388.2,274.5 C391,273.6 393.6,277 393.3,284 C393,288 392,290.5 390.5,290.5 C388.8,289 388.3,283 388.2,274.5 Z" fill="none" stroke="#e37aa6" stroke-width="1.1"/>
<g opacity="0.7" filter="url(#tex)">
<path d="M366.2,286.5 C366.8,284.6 369.3,284.9 371.0,285.5 C372.7,286.1 375.4,287.9 376.5,290.0 C377.6,292.1 378.0,296.2 377.4,298.0 C376.8,299.8 374.6,301.2 373.0,301.0 C371.4,300.8 368.6,299.4 367.5,297.0 C366.4,294.6 365.6,288.4 366.2,286.5 Z" fill="#b697c9"/>
<path d="M378.6,267.8 C379.1,266.6 381.8,267.0 383.0,267.4 C384.2,267.8 385.8,268.8 386.0,270.0 C386.2,271.2 385.5,274.1 384.5,274.9 C383.5,275.6 381.0,275.7 380.0,274.5 C379.0,273.3 378.1,269.0 378.6,267.8 Z" fill="#bfa2cd"/>
<path d="M397.4,279.0 C398.1,277.7 400.7,277.3 402.0,278.0 C403.3,278.7 404.8,280.5 405.1,283.0 C405.4,285.5 405.0,291.4 404.0,292.9 C403.0,294.4 400.1,293.1 399.0,292.0 C397.9,290.9 397.8,288.2 397.5,286.0 C397.2,283.8 396.6,280.3 397.4,279.0 Z" fill="#b697c9"/>
<path d="M336.0,262.0 C336.7,260.3 340.8,260.7 342.0,262.0 C343.2,263.3 343.7,268.3 343.0,270.0 C342.3,271.7 339.2,273.3 338.0,272.0 C336.8,270.7 335.3,263.7 336.0,262.0 Z" fill="#c0a2cf"/>
<path d="M347.0,259.8 C348.0,259.2 352.2,259.3 353.0,260.0 C353.8,260.7 353.0,263.4 352.0,264.0 C351.0,264.6 347.8,264.2 347.0,263.5 C346.2,262.8 346.0,260.4 347.0,259.8 Z" fill="#c0a2cf"/>
</g>
<path d="M360.5,284.0 L365.0,282.0 L370.8,279.8" stroke="#f5f5f5" stroke-width="1.3" fill="none" stroke-linecap="round" stroke-linejoin="round"/>
<path d="M372.5,292.0 L374.0,297.0 L375.0,302.0" stroke="#f5f5f5" stroke-width="1.0" fill="none" stroke-linecap="round" stroke-linejoin="round"/>
<path d="M400.0,300.0 L401.5,304.0" stroke="#f5f5f5" stroke-width="0.9" fill="none" stroke-linecap="round" stroke-linejoin="round"/>
<path d="M364.1,242.4 C364.1,240.9 364.1,238.8 364.6,237.3 C365.1,235.8 366.1,234.3 367.2,233.2 C368.3,232.1 369.5,231.5 371.2,230.7 C372.9,229.8 375.0,228.8 377.4,228.1 C379.8,227.4 382.4,226.8 385.5,226.6 C388.6,226.4 392.4,226.6 395.8,227.1 C399.2,227.6 402.8,228.7 406.0,229.7 C409.2,230.7 412.5,231.8 415.2,233.2 C417.9,234.6 420.7,236.6 422.3,238.3 C423.9,240.0 424.7,241.9 424.9,243.5 C425.1,245.1 424.4,246.7 423.3,248.0 C422.2,249.3 420.6,250.2 418.2,251.1 C415.8,252.0 412.2,252.9 409.0,253.7 C405.8,254.5 402.0,255.1 398.8,255.7 C395.6,256.3 392.2,256.8 389.6,257.2 C387.1,257.6 385.5,257.9 383.5,257.8 C381.5,257.7 379.4,257.3 377.4,256.7 C375.3,256.1 372.9,255.2 371.2,254.2 C369.5,253.2 368.3,251.9 367.2,250.6 C366.1,249.3 365.1,247.9 364.6,246.5 C364.1,245.1 364.1,243.9 364.1,242.4 Z" fill="#e6678a"/>
<path d="M384.5,239.4 C385.4,237.6 387.1,236.7 388.6,235.8 C390.1,235.0 391.3,234.7 393.7,234.3 C396.1,233.9 400.0,233.3 402.9,233.2 C405.8,233.1 408.6,233.3 411.1,233.7 C413.7,234.1 416.2,234.7 418.2,235.8 C420.2,236.9 422.4,238.8 423.3,240.4 C424.2,242.0 424.3,244.0 423.8,245.5 C423.3,247.0 422.4,248.4 420.3,249.6 C418.2,250.8 414.3,251.8 411.1,252.6 C407.9,253.4 404.1,254.1 400.9,254.7 C397.7,255.3 393.9,256.2 391.7,256.2 C389.5,256.2 388.8,255.6 387.6,254.7 C386.4,253.8 385.3,252.0 384.5,250.6 C383.7,249.2 383.0,248.4 383.0,246.5 C383.0,244.6 383.6,241.2 384.5,239.4 Z" fill="#e996bb"/>
<path d="M382.5,243.5 L384.5,239.4 L388.6,235.6 L393.7,234.0 L402.9,233.0" stroke="#f7e8ef" stroke-width="0.9" fill="none" stroke-linecap="round" stroke-linejoin="round"/>
<path d="M407.0,241.6 C407.6,241.0 409.6,240.9 410.5,241.2 C411.4,241.5 412.1,242.5 412.3,243.5 C412.5,244.5 412.4,246.4 411.8,247.0 C411.2,247.6 409.3,247.6 408.5,247.2 C407.7,246.8 407.1,245.4 406.8,244.5 C406.6,243.6 406.4,242.2 407.0,241.6 Z" fill="#f4f0f2"/>
<path d="M412.3,242.3 C413.1,241.4 415.4,241.5 417.0,241.6 C418.6,241.7 421.3,241.9 422.0,242.8 C422.7,243.7 422.2,245.9 421.2,246.8 C420.2,247.7 417.4,248.0 416.0,248.0 C414.6,248.0 413.1,247.9 412.5,247.0 C411.9,246.1 411.6,243.2 412.3,242.3 Z" fill="#e35f86"/>
<path d="M371.2,232.5 L372.5,237.0 L373.3,240.4 L376.0,242.0 L378.4,242.4 L381.5,239.4" stroke="#f5e4ec" stroke-width="0.8" fill="none" stroke-linecap="round" stroke-linejoin="round"/>
<path d="M375.5,266.5 L375.0,271.0 L373.0,275.5 L371.0,278.6" stroke="#e04a7c" stroke-width="3.0" fill="none" stroke-linecap="round" stroke-linejoin="round"/>
<path d="M352.5,267.6 L357.5,268.4" stroke="#e25a8a" stroke-width="1.3" fill="none" stroke-linecap="round" stroke-linejoin="round"/>
<path d="M362.4,267.2 L367.4,267.8" stroke="#e25a8a" stroke-width="1.3" fill="none" stroke-linecap="round" stroke-linejoin="round"/>
<path d="M386.0,264.5 L390.0,266.0" stroke="#e0508a" stroke-width="1.2" fill="none" stroke-linecap="round" stroke-linejoin="round"/>
<path d="M355.0,270.0 L358.0,268.0" stroke="#e0508a" stroke-width="1.2" fill="none" stroke-linecap="round" stroke-linejoin="round"/>
<path d="M401.0,292.0 L402.0,297.0" stroke="#e0508a" stroke-width="1.3" fill="none" stroke-linecap="round" stroke-linejoin="round"/>
<rect x="81.2" y="315.1" width="14.7" height="2.7" fill="#000"/>
<rect x="197.8" y="315.1" width="15.0" height="2.7" fill="#000"/>
<rect x="307.2" y="315.1" width="14.7" height="2.7" fill="#000"/>
<rect x="414.3" y="315.1" width="14.9" height="2.7" fill="#000"/>
<line x1="505.70" y1="197.30" x2="505.70" y2="326.20" stroke="#777" stroke-width="0.9"/>
<line x1="505.70" y1="216.00" x2="508.20" y2="216.00" stroke="#777" stroke-width="0.9"/>
<text x="500.00" y="218.60" font-size="7.4" text-anchor="end" textLength="11.40" lengthAdjust="spacingAndGlyphs" fill="#1a1a1a">0.2</text>
<line x1="505.70" y1="238.30" x2="508.20" y2="238.30" stroke="#777" stroke-width="0.9"/>
<text x="500.00" y="240.90" font-size="7.4" text-anchor="end" textLength="16.20" lengthAdjust="spacingAndGlyphs" fill="#1a1a1a">0.15</text>
<line x1="505.70" y1="260.60" x2="508.20" y2="260.60" stroke="#777" stroke-width="0.9"/>
<text x="500.00" y="263.20" font-size="7.4" text-anchor="end" textLength="11.20" lengthAdjust="spacingAndGlyphs" fill="#1a1a1a">0.1</text>
<line x1="505.70" y1="282.90" x2="508.20" y2="282.90" stroke="#777" stroke-width="0.9"/>
<text x="500.00" y="285.50" font-size="7.4" text-anchor="end" textLength="16.40" lengthAdjust="spacingAndGlyphs" fill="#1a1a1a">0.05</text>
<line x1="505.70" y1="305.20" x2="508.20" y2="305.20" stroke="#777" stroke-width="0.9"/>
<text x="500.00" y="307.80" font-size="7.4" text-anchor="end" textLength="5.00" lengthAdjust="spacingAndGlyphs" fill="#1a1a1a">0</text>
<line x1="505.70" y1="326.20" x2="660.30" y2="326.20" stroke="#777" stroke-width="0.9"/>
<line x1="525.20" y1="326.20" x2="525.20" y2="323.80" stroke="#777" stroke-width="0.9"/>
<line x1="563.40" y1="326.20" x2="563.40" y2="323.80" stroke="#777" stroke-width="0.9"/>
<line x1="602.30" y1="326.20" x2="602.30" y2="323.80" stroke="#777" stroke-width="0.9"/>
<line x1="641.30" y1="326.20" x2="641.30" y2="323.80" stroke="#777" stroke-width="0.9"/>
<text x="467.70" y="261.70" font-size="8.3" text-anchor="middle" textLength="50.20" lengthAdjust="spacingAndGlyphs" fill="#1a1a1a" transform="rotate(-90 467.70 261.70)">Ratio of lung</text>
<text x="478.00" y="262.10" font-size="8.3" text-anchor="middle" textLength="71.80" lengthAdjust="spacingAndGlyphs" fill="#1a1a1a" transform="rotate(-90 478.00 262.10)">metastatic burden</text>
<line x1="524.95" y1="289.20" x2="524.95" y2="299.30" stroke="#222" stroke-width="0.9" stroke-dasharray="2.2,1.6"/>
<line x1="524.95" y1="316.50" x2="524.95" y2="321.00" stroke="#222" stroke-width="0.9" stroke-dasharray="2.2,1.6"/>
<line x1="520.25" y1="289.20" x2="529.65" y2="289.20" stroke="#222" stroke-width="0.9"/>
<line x1="520.25" y1="321.00" x2="529.65" y2="321.00" stroke="#222" stroke-width="0.9"/>
<rect x="515.10" y="299.30" width="19.70" height="17.20" fill="#2b2b2d" stroke="#333" stroke-width="0.8"/>
<line x1="515.10" y1="314.30" x2="534.80" y2="314.30" stroke="#000" stroke-width="0.9"/>
<line x1="563.70" y1="254.50" x2="563.70" y2="265.30" stroke="#222" stroke-width="0.9" stroke-dasharray="2.2,1.6"/>
<line x1="563.70" y1="323.90" x2="563.70" y2="324.60" stroke="#222" stroke-width="0.9" stroke-dasharray="2.2,1.6"/>
<line x1="559.00" y1="254.50" x2="568.40" y2="254.50" stroke="#222" stroke-width="0.9"/>
<line x1="559.00" y1="324.60" x2="568.40" y2="324.60" stroke="#222" stroke-width="0.9"/>
<rect x="554.20" y="265.30" width="19.00" height="58.60" fill="#2e9e2e" stroke="#333" stroke-width="0.8"/>
<line x1="554.20" y1="308.20" x2="573.20" y2="308.20" stroke="#1e6e1e" stroke-width="0.9"/>
<line x1="602.70" y1="208.40" x2="602.70" y2="254.40" stroke="#222" stroke-width="0.9" stroke-dasharray="2.2,1.6"/>
<line x1="602.70" y1="315.10" x2="602.70" y2="323.50" stroke="#222" stroke-width="0.9" stroke-dasharray="2.2,1.6"/>
<line x1="598.00" y1="208.40" x2="607.40" y2="208.40" stroke="#222" stroke-width="0.9"/>
<line x1="598.00" y1="323.50" x2="607.40" y2="323.50" stroke="#222" stroke-width="0.9"/>
<rect x="592.80" y="254.40" width="19.80" height="60.70" fill="#d6412b" stroke="#333" stroke-width="0.8"/>
<line x1="592.80" y1="308.40" x2="612.60" y2="308.40" stroke="#9a2a1a" stroke-width="0.9"/>
<line x1="641.20" y1="219.20" x2="641.20" y2="235.30" stroke="#222" stroke-width="0.9" stroke-dasharray="2.2,1.6"/>
<line x1="641.20" y1="299.70" x2="641.20" y2="314.10" stroke="#222" stroke-width="0.9" stroke-dasharray="2.2,1.6"/>
<line x1="636.50" y1="219.20" x2="645.90" y2="219.20" stroke="#222" stroke-width="0.9"/>
<line x1="636.50" y1="314.10" x2="645.90" y2="314.10" stroke="#222" stroke-width="0.9"/>
<rect x="631.30" y="235.30" width="19.80" height="64.40" fill="#80ffff" stroke="#333" stroke-width="0.8"/>
<line x1="631.30" y1="294.30" x2="651.10" y2="294.30" stroke="#50b0b0" stroke-width="0.9"/>
<line x1="519.90" y1="203.80" x2="643.10" y2="203.80" stroke="#c8c8c8" stroke-width="1.3"/>
<polygon points="575.65,197.45 576.31,198.89 577.88,199.07 576.72,200.15 577.03,201.70 575.65,200.93 574.27,201.70 574.58,200.15 573.42,199.07 574.99,198.89" fill="#1a1a1a"/>
<polygon points="580.15,197.45 580.81,198.89 582.38,199.07 581.22,200.15 581.53,201.70 580.15,200.93 578.77,201.70 579.08,200.15 577.92,199.07 579.49,198.89" fill="#1a1a1a"/>
<text x="530.00" y="333.80" font-size="7.6" text-anchor="end" textLength="33.20" lengthAdjust="spacingAndGlyphs" fill="#1a1a1a" transform="rotate(-45 530.00 333.80)">Control</text>
<text x="567.90" y="331.80" font-size="7.6" text-anchor="end" textLength="46.50" lengthAdjust="spacingAndGlyphs" fill="#1a1a1a" transform="rotate(-45 567.90 331.80)">HNF4G-KO</text>
<text x="607.00" y="333.00" font-size="7.6" text-anchor="end" textLength="43.50" lengthAdjust="spacingAndGlyphs" fill="#1a1a1a" transform="rotate(-45 607.00 333.00)">FOXA1-OE</text>
<text x="645.00" y="333.00" font-size="7.6" text-anchor="end" textLength="97.00" lengthAdjust="spacingAndGlyphs" fill="#1a1a1a" transform="rotate(-45 645.00 333.00)">HNF4G-KO + FOXA1-OE</text>
</svg></body></html>
